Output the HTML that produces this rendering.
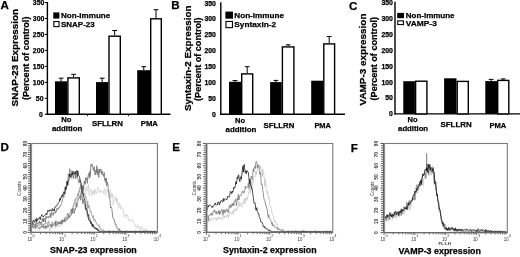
<!DOCTYPE html>
<html><head><meta charset="utf-8"><style>
html,body{margin:0;padding:0;background:#fff;}
svg{display:block;}
text{font-family:'Liberation Sans',Arial,sans-serif;font-weight:bold;}
.n{font-weight:normal;}
.k{stroke:#000;stroke-width:0.25px;}
</style></head><body>
<svg width="520" height="257" viewBox="0 0 520 257">
<rect width="520" height="257" fill="#fff"/>
<line x1="47.40" y1="2.00" x2="47.40" y2="114.90" stroke="#000" stroke-width="1.4"/>
<line x1="46.70" y1="114.30" x2="170.50" y2="114.30" stroke="#000" stroke-width="1.4"/>
<line x1="44.80" y1="114.30" x2="47.40" y2="114.30" stroke="#000" stroke-width="1.0"/>
<text x="42.90" y="116.75" font-size="6.9" text-anchor="end" class="k">0</text>
<line x1="44.80" y1="98.33" x2="47.40" y2="98.33" stroke="#000" stroke-width="1.0"/>
<text x="43.50" y="100.78" font-size="6.9" text-anchor="end" class="k">50</text>
<line x1="44.80" y1="82.36" x2="47.40" y2="82.36" stroke="#000" stroke-width="1.0"/>
<text x="44.30" y="84.81" font-size="6.9" text-anchor="end" class="k">100</text>
<line x1="44.80" y1="66.39" x2="47.40" y2="66.39" stroke="#000" stroke-width="1.0"/>
<text x="44.30" y="68.84" font-size="6.9" text-anchor="end" class="k">150</text>
<line x1="44.80" y1="50.42" x2="47.40" y2="50.42" stroke="#000" stroke-width="1.0"/>
<text x="44.30" y="52.87" font-size="6.9" text-anchor="end" class="k">200</text>
<line x1="44.80" y1="34.45" x2="47.40" y2="34.45" stroke="#000" stroke-width="1.0"/>
<text x="44.30" y="36.90" font-size="6.9" text-anchor="end" class="k">250</text>
<line x1="44.80" y1="18.48" x2="47.40" y2="18.48" stroke="#000" stroke-width="1.0"/>
<text x="44.30" y="20.93" font-size="6.9" text-anchor="end" class="k">300</text>
<line x1="44.80" y1="2.51" x2="47.40" y2="2.51" stroke="#000" stroke-width="1.0"/>
<text x="44.30" y="4.96" font-size="6.9" text-anchor="end" class="k">350</text>
<line x1="87.50" y1="114.30" x2="87.50" y2="116.10" stroke="#000" stroke-width="0.9"/>
<line x1="128.50" y1="114.30" x2="128.50" y2="116.10" stroke="#000" stroke-width="0.9"/>
<line x1="61.10" y1="78.20" x2="61.10" y2="81.30" stroke="#000" stroke-width="1.0"/>
<line x1="58.70" y1="78.20" x2="63.50" y2="78.20" stroke="#000" stroke-width="1.0"/>
<rect x="55.00" y="81.30" width="12.20" height="33.00" fill="#000"/>
<line x1="73.60" y1="74.30" x2="73.60" y2="77.20" stroke="#000" stroke-width="1.0"/>
<line x1="71.20" y1="74.30" x2="76.00" y2="74.30" stroke="#000" stroke-width="1.0"/>
<rect x="67.90" y="77.90" width="11.40" height="36.40" fill="#fff" stroke="#000" stroke-width="1.4"/>
<line x1="102.15" y1="78.20" x2="102.15" y2="82.10" stroke="#000" stroke-width="1.0"/>
<line x1="99.75" y1="78.20" x2="104.55" y2="78.20" stroke="#000" stroke-width="1.0"/>
<rect x="96.00" y="82.10" width="12.30" height="32.20" fill="#000"/>
<line x1="114.65" y1="30.50" x2="114.65" y2="35.50" stroke="#000" stroke-width="1.0"/>
<line x1="112.25" y1="30.50" x2="117.05" y2="30.50" stroke="#000" stroke-width="1.0"/>
<rect x="109.00" y="36.20" width="11.30" height="78.10" fill="#fff" stroke="#000" stroke-width="1.4"/>
<line x1="143.75" y1="66.70" x2="143.75" y2="70.20" stroke="#000" stroke-width="1.0"/>
<line x1="141.35" y1="66.70" x2="146.15" y2="66.70" stroke="#000" stroke-width="1.0"/>
<rect x="137.20" y="70.20" width="13.10" height="44.10" fill="#000"/>
<line x1="156.00" y1="9.70" x2="156.00" y2="18.10" stroke="#000" stroke-width="1.0"/>
<line x1="153.60" y1="9.70" x2="158.40" y2="9.70" stroke="#000" stroke-width="1.0"/>
<rect x="150.70" y="18.80" width="10.60" height="95.50" fill="#fff" stroke="#000" stroke-width="1.4"/>
<rect x="53.30" y="12.40" width="6.10" height="6.20" fill="#000"/>
<rect x="53.85" y="21.55" width="5.20" height="5.10" fill="#fff" stroke="#000" stroke-width="1.1"/>
<text x="61.00" y="18.20" font-size="8.0" textLength="49.20" lengthAdjust="spacingAndGlyphs" class="k">Non-immune</text>
<text x="61.00" y="26.90" font-size="8.0" textLength="33.70" lengthAdjust="spacingAndGlyphs" class="k">SNAP-23</text>
<text x="0.50" y="8.60" font-size="11.6" class="k">A</text>
<text x="61.30" y="121.80" font-size="8.1" textLength="10.20" lengthAdjust="spacingAndGlyphs" class="k">No</text>
<text x="51.90" y="130.90" font-size="8.1" textLength="30.40" lengthAdjust="spacingAndGlyphs" class="k">addition</text>
<text x="91.90" y="126.10" font-size="8.1" textLength="31.10" lengthAdjust="spacingAndGlyphs" class="k">SFLLRN</text>
<text x="140.80" y="126.10" font-size="8.1" textLength="17.10" lengthAdjust="spacingAndGlyphs" class="k">PMA</text>
<text x="18.20" y="106.40" font-size="9.5" textLength="97.40" lengthAdjust="spacingAndGlyphs" class="k" transform="rotate(-90 18.20 106.40)">SNAP-23 Expression</text>
<text x="28.50" y="100.00" font-size="8.8" textLength="83.40" lengthAdjust="spacingAndGlyphs" class="k" transform="rotate(-90 28.50 100.00)">(Percent of control)</text>
<line x1="220.80" y1="2.20" x2="220.80" y2="114.80" stroke="#000" stroke-width="1.4"/>
<line x1="220.10" y1="114.20" x2="345.00" y2="114.20" stroke="#000" stroke-width="1.4"/>
<text x="215.90" y="116.65" font-size="6.9" text-anchor="end" class="k">0</text>
<text x="215.90" y="100.79" font-size="6.9" text-anchor="end" class="k">50</text>
<text x="215.90" y="84.93" font-size="6.9" text-anchor="end" class="k">100</text>
<text x="215.90" y="69.07" font-size="6.9" text-anchor="end" class="k">150</text>
<text x="215.90" y="53.21" font-size="6.9" text-anchor="end" class="k">200</text>
<text x="215.90" y="37.35" font-size="6.9" text-anchor="end" class="k">250</text>
<text x="215.90" y="21.49" font-size="6.9" text-anchor="end" class="k">300</text>
<text x="215.90" y="5.63" font-size="6.9" text-anchor="end" class="k">350</text>
<line x1="235.00" y1="80.50" x2="235.00" y2="81.80" stroke="#000" stroke-width="1.0"/>
<line x1="232.60" y1="80.50" x2="237.40" y2="80.50" stroke="#000" stroke-width="1.0"/>
<rect x="229.00" y="81.80" width="12.00" height="32.40" fill="#000"/>
<line x1="247.20" y1="66.70" x2="247.20" y2="73.20" stroke="#000" stroke-width="1.0"/>
<line x1="244.80" y1="66.70" x2="249.60" y2="66.70" stroke="#000" stroke-width="1.0"/>
<rect x="241.70" y="73.90" width="11.00" height="40.30" fill="#fff" stroke="#000" stroke-width="1.4"/>
<line x1="275.90" y1="80.40" x2="275.90" y2="82.10" stroke="#000" stroke-width="1.0"/>
<line x1="273.50" y1="80.40" x2="278.30" y2="80.40" stroke="#000" stroke-width="1.0"/>
<rect x="270.10" y="82.10" width="11.60" height="32.10" fill="#000"/>
<line x1="288.15" y1="44.80" x2="288.15" y2="46.20" stroke="#000" stroke-width="1.0"/>
<line x1="285.75" y1="44.80" x2="290.55" y2="44.80" stroke="#000" stroke-width="1.0"/>
<rect x="282.40" y="46.90" width="11.50" height="67.30" fill="#fff" stroke="#000" stroke-width="1.4"/>
<rect x="311.20" y="80.70" width="11.90" height="33.50" fill="#000"/>
<line x1="329.20" y1="36.50" x2="329.20" y2="43.20" stroke="#000" stroke-width="1.0"/>
<line x1="326.80" y1="36.50" x2="331.60" y2="36.50" stroke="#000" stroke-width="1.0"/>
<rect x="323.80" y="43.90" width="10.80" height="70.30" fill="#fff" stroke="#000" stroke-width="1.4"/>
<rect x="225.40" y="11.60" width="7.60" height="7.10" fill="#000"/>
<rect x="225.95" y="21.45" width="6.50" height="6.20" fill="#fff" stroke="#000" stroke-width="1.1"/>
<text x="234.30" y="17.60" font-size="8.0" textLength="49.70" lengthAdjust="spacingAndGlyphs" class="k">Non-immune</text>
<text x="234.30" y="26.70" font-size="8.0" textLength="41.80" lengthAdjust="spacingAndGlyphs" class="k">Syntaxin-2</text>
<text x="171.30" y="8.90" font-size="11.6" class="k">B</text>
<text x="235.00" y="123.00" font-size="8.1" textLength="10.00" lengthAdjust="spacingAndGlyphs" class="k">No</text>
<text x="225.60" y="132.10" font-size="8.1" textLength="30.70" lengthAdjust="spacingAndGlyphs" class="k">addition</text>
<text x="263.50" y="127.90" font-size="8.1" textLength="30.90" lengthAdjust="spacingAndGlyphs" class="k">SFLLRN</text>
<text x="314.40" y="127.90" font-size="8.1" textLength="16.60" lengthAdjust="spacingAndGlyphs" class="k">PMA</text>
<text x="190.50" y="111.00" font-size="9.5" textLength="105.40" lengthAdjust="spacingAndGlyphs" class="k" transform="rotate(-90 190.50 111.00)">Syntaxin-2 Expression</text>
<text x="201.50" y="100.90" font-size="8.8" textLength="83.40" lengthAdjust="spacingAndGlyphs" class="k" transform="rotate(-90 201.50 100.90)">(Percent of control)</text>
<line x1="395.00" y1="1.80" x2="395.00" y2="114.50" stroke="#000" stroke-width="1.4"/>
<line x1="394.30" y1="113.90" x2="520.50" y2="113.90" stroke="#000" stroke-width="1.4"/>
<text x="392.90" y="116.35" font-size="6.9" text-anchor="end" class="k">0</text>
<text x="392.90" y="100.45" font-size="6.9" text-anchor="end" class="k">50</text>
<text x="392.90" y="84.55" font-size="6.9" text-anchor="end" class="k">100</text>
<text x="392.90" y="68.65" font-size="6.9" text-anchor="end" class="k">150</text>
<text x="392.90" y="52.75" font-size="6.9" text-anchor="end" class="k">200</text>
<text x="392.90" y="36.85" font-size="6.9" text-anchor="end" class="k">250</text>
<text x="392.90" y="20.95" font-size="6.9" text-anchor="end" class="k">300</text>
<text x="392.90" y="5.05" font-size="6.9" text-anchor="end" class="k">350</text>
<rect x="403.30" y="81.20" width="11.60" height="32.70" fill="#000"/>
<rect x="415.60" y="81.20" width="11.30" height="32.70" fill="#fff" stroke="#000" stroke-width="1.4"/>
<rect x="444.10" y="78.30" width="12.40" height="35.60" fill="#000"/>
<rect x="457.20" y="81.40" width="11.10" height="32.50" fill="#fff" stroke="#000" stroke-width="1.4"/>
<line x1="491.15" y1="79.40" x2="491.15" y2="81.10" stroke="#000" stroke-width="1.0"/>
<line x1="488.75" y1="79.40" x2="493.55" y2="79.40" stroke="#000" stroke-width="1.0"/>
<rect x="485.30" y="81.10" width="11.70" height="32.80" fill="#000"/>
<line x1="503.25" y1="78.90" x2="503.25" y2="79.70" stroke="#000" stroke-width="1.0"/>
<line x1="500.85" y1="78.90" x2="505.65" y2="78.90" stroke="#000" stroke-width="1.0"/>
<rect x="497.70" y="80.40" width="11.10" height="33.50" fill="#fff" stroke="#000" stroke-width="1.4"/>
<rect x="397.20" y="12.90" width="6.80" height="5.30" fill="#000"/>
<rect x="397.75" y="20.85" width="5.70" height="3.70" fill="#fff" stroke="#000" stroke-width="1.1"/>
<text x="405.80" y="18.40" font-size="8.0" textLength="48.70" lengthAdjust="spacingAndGlyphs" class="k">Non-immune</text>
<text x="405.80" y="26.00" font-size="8.0" textLength="31.00" lengthAdjust="spacingAndGlyphs" class="k">VAMP-3</text>
<text x="349.00" y="9.70" font-size="11.6" class="k">C</text>
<text x="407.50" y="121.80" font-size="8.1" textLength="10.00" lengthAdjust="spacingAndGlyphs" class="k">No</text>
<text x="398.10" y="131.30" font-size="8.1" textLength="30.00" lengthAdjust="spacingAndGlyphs" class="k">addition</text>
<text x="440.50" y="127.40" font-size="8.1" textLength="31.10" lengthAdjust="spacingAndGlyphs" class="k">SFLLRN</text>
<text x="489.40" y="127.90" font-size="8.1" textLength="16.90" lengthAdjust="spacingAndGlyphs" class="k">PMA</text>
<text x="366.10" y="105.50" font-size="9.5" textLength="92.00" lengthAdjust="spacingAndGlyphs" class="k" transform="rotate(-90 366.10 105.50)">VAMP-3 expression</text>
<text x="377.00" y="100.40" font-size="8.8" textLength="83.50" lengthAdjust="spacingAndGlyphs" class="k" transform="rotate(-90 377.00 100.40)">(Percent of control)</text>
<polyline points="31.80,226.77 32.30,228.38 32.80,229.00 33.30,227.48 33.80,226.66 34.30,227.93 34.80,228.48 35.30,229.10 35.80,226.78 36.30,226.70 36.80,228.71 37.30,228.48 37.80,229.54 38.30,228.99 38.80,227.90 39.30,227.72 39.80,230.59 40.30,227.71 40.80,227.21 41.30,226.86 41.80,228.10 42.30,228.15 42.80,227.65 43.30,227.94 43.80,228.27 44.30,228.70 44.80,229.10 45.30,228.21 45.80,226.20 46.30,228.71 46.80,226.57 47.30,227.83 47.80,226.52 48.30,228.00 48.80,227.22 49.30,228.22 49.80,231.32 50.30,227.86 50.80,228.62 51.30,226.24 51.80,227.16 52.30,228.01 52.80,227.06 53.30,227.41 53.80,226.97 54.30,225.61 54.80,227.18 55.30,225.51 55.80,228.35 56.30,225.54 56.80,226.74 57.30,225.81 57.80,226.75 58.30,224.81 58.80,226.52 59.30,225.06 59.80,226.55 60.30,225.45 60.80,224.37 61.30,222.72 61.80,224.18 62.30,223.31 62.80,224.37 63.30,221.19 63.80,221.96 64.30,221.40 64.80,220.60 65.30,220.00 65.80,219.46 66.30,217.82 66.80,216.69 67.30,217.10 67.80,218.10 68.30,219.03 68.80,217.72 69.30,216.96 69.80,215.35 70.30,214.05 70.80,211.99 71.30,211.83 71.80,212.44 72.30,207.48 72.80,205.60 73.30,209.37 73.80,204.95 74.30,205.29 74.80,204.12 75.30,199.13 75.80,205.32 76.30,203.04 76.80,198.77 77.30,198.98 77.80,196.67 78.30,193.73 78.80,194.76 79.30,195.19 79.80,196.18 80.30,194.68 80.80,192.63 81.30,194.89 81.80,189.55 82.30,192.63 82.80,193.11 83.30,189.69 83.80,186.05 84.30,187.79 84.80,190.14 85.30,190.55 85.80,192.64 86.30,186.82 86.80,189.30 87.30,190.96 87.80,189.32 88.30,184.49 88.80,191.88 89.30,195.46 89.80,192.69 90.30,188.45 90.80,189.61 91.30,191.06 91.80,196.20 92.30,192.01 92.80,190.90 93.30,194.17 93.80,190.51 94.30,194.90 94.80,189.20 95.30,189.70 95.80,192.41 96.30,194.02 96.80,192.31 97.30,191.54 97.80,186.80 98.30,189.31 98.80,189.57 99.30,189.77 99.80,192.31 100.30,190.29 100.80,192.87 101.30,191.35 101.80,190.48 102.30,191.55 102.80,192.31 103.30,193.33 103.80,190.41 104.30,191.02 104.80,188.56 105.30,195.24 105.80,194.96 106.30,191.39 106.80,190.79 107.30,189.16 107.80,192.35 108.30,192.81 108.80,197.73 109.30,194.06 109.80,192.41 110.30,189.40 110.80,198.29 111.30,196.25 111.80,193.02 112.30,197.40 112.80,194.24 113.30,205.41 113.80,201.08 114.30,200.52 114.80,199.58 115.30,196.19 115.80,200.85 116.30,198.59 116.80,203.44 117.30,198.66 117.80,201.67 118.30,206.37 118.80,207.75 119.30,202.94 119.80,202.88 120.30,208.16 120.80,208.96 121.30,206.48 121.80,207.89 122.30,208.78 122.80,208.81 123.30,210.58 123.80,214.71 124.30,214.62 124.80,217.69 125.30,214.86 125.80,215.29 126.30,214.46 126.80,216.31 127.30,214.99 127.80,214.81 128.30,219.04 128.80,220.62 129.30,220.22 129.80,221.41 130.30,220.36 130.80,219.50 131.30,221.12 131.80,220.99 132.30,220.52 132.80,220.29 133.30,221.10 133.80,223.49 134.30,224.19 134.80,223.93 135.30,226.69 135.80,225.71 136.30,226.66 136.80,227.61 137.30,225.59 137.80,224.60 138.30,227.79 138.80,226.51 139.30,228.84 139.80,228.07 140.30,228.99 140.80,228.98 141.30,226.44 141.80,229.40 142.30,228.33 142.80,228.51 143.30,229.06 143.80,230.37 144.30,230.64 144.80,230.90 145.30,228.87 145.80,229.93 146.30,228.72 146.80,230.69 147.30,231.39 147.80,230.57 148.30,231.47 148.80,231.63 149.30,231.52 149.80,231.31 150.30,231.40 150.80,231.86 151.30,231.83 151.80,231.88 152.30,231.47 152.80,231.45 153.30,231.69 153.80,231.82 154.30,231.79 154.80,231.78 155.30,231.40 155.80,231.87 156.30,231.52" fill="none" stroke="#d0d0d0" stroke-width="0.8" stroke-linejoin="round"/>
<polyline points="31.80,225.13 32.30,224.89 32.80,224.84 33.30,224.18 33.80,225.06 34.30,224.80 34.80,226.10 35.30,223.52 35.80,227.84 36.30,220.82 36.80,224.75 37.30,225.74 37.80,224.37 38.30,223.65 38.80,224.49 39.30,225.41 39.80,226.06 40.30,222.56 40.80,224.71 41.30,223.61 41.80,225.71 42.30,223.72 42.80,224.52 43.30,225.67 43.80,223.88 44.30,224.52 44.80,223.20 45.30,223.78 45.80,221.65 46.30,222.99 46.80,223.40 47.30,223.14 47.80,226.74 48.30,221.04 48.80,221.09 49.30,224.22 49.80,224.68 50.30,224.02 50.80,225.22 51.30,226.34 51.80,222.91 52.30,221.67 52.80,223.10 53.30,224.78 53.80,223.68 54.30,222.76 54.80,223.34 55.30,223.21 55.80,220.41 56.30,223.23 56.80,221.40 57.30,222.09 57.80,221.62 58.30,222.33 58.80,223.41 59.30,221.74 59.80,222.15 60.30,222.95 60.80,222.00 61.30,220.07 61.80,221.83 62.30,219.76 62.80,219.62 63.30,220.00 63.80,221.61 64.30,217.71 64.80,218.09 65.30,218.58 65.80,216.69 66.30,217.65 66.80,218.77 67.30,213.16 67.80,215.41 68.30,213.46 68.80,217.42 69.30,214.28 69.80,213.61 70.30,211.64 70.80,209.31 71.30,210.35 71.80,209.79 72.30,208.11 72.80,210.40 73.30,207.39 73.80,203.02 74.30,202.95 74.80,203.19 75.30,198.78 75.80,199.55 76.30,197.31 76.80,197.72 77.30,196.30 77.80,193.29 78.30,196.27 78.80,190.79 79.30,192.50 79.80,187.27 80.30,186.25 80.80,185.82 81.30,186.37 81.80,190.13 82.30,185.47 82.80,193.75 83.30,187.89 83.80,194.97 84.30,193.21 84.80,193.16 85.30,197.63 85.80,196.24 86.30,198.77 86.80,200.42 87.30,207.66 87.80,201.14 88.30,208.33 88.80,205.39 89.30,205.98 89.80,207.82 90.30,212.41 90.80,211.18 91.30,211.59 91.80,215.37 92.30,215.90 92.80,218.07 93.30,215.50 93.80,220.49 94.30,220.94 94.80,219.00 95.30,220.48 95.80,222.52 96.30,222.46 96.80,224.73 97.30,225.35 97.80,225.52 98.30,224.85 98.80,224.31 99.30,227.33 99.80,226.08 100.30,229.04 100.80,230.07 101.30,228.83 101.80,229.95 102.30,230.69 102.80,230.69 103.30,229.48 103.80,230.06 104.30,230.89 104.80,231.74 105.30,231.34 105.80,231.59 106.30,231.83 106.80,231.26 107.30,231.78 107.80,231.43 108.30,231.70 108.80,231.50 109.30,230.62 109.80,231.51 110.30,231.82 110.80,231.59 111.30,231.86 111.80,231.43 112.30,231.45 112.80,231.78 113.30,231.49 113.80,231.58 114.30,231.01 114.80,231.81 115.30,231.62 115.80,231.65 116.30,231.75 116.80,230.86 117.30,231.68 117.80,231.28 118.30,231.61 118.80,231.25 119.30,231.62 119.80,231.39 120.30,231.55 120.80,230.73 121.30,231.31 121.80,231.89 122.30,231.70 122.80,231.50 123.30,231.69 123.80,231.62 124.30,231.87 124.80,231.62 125.30,231.43 125.80,231.09 126.30,231.66 126.80,231.25 127.30,231.16 127.80,231.63 128.30,231.61 128.80,231.59 129.30,231.77 129.80,231.44 130.30,231.60 130.80,231.41 131.30,231.15 131.80,231.69 132.30,231.43 132.80,231.79 133.30,231.42 133.80,231.83 134.30,230.97 134.80,231.74 135.30,231.31 135.80,230.73 136.30,231.30 136.80,231.76 137.30,231.81 137.80,231.51 138.30,231.32 138.80,231.64 139.30,231.34 139.80,231.10 140.30,231.20 140.80,231.70 141.30,231.28 141.80,231.49 142.30,231.48 142.80,231.44 143.30,230.81 143.80,231.65 144.30,231.31 144.80,231.28 145.30,231.84 145.80,231.50 146.30,231.76 146.80,231.78 147.30,231.71 147.80,231.58 148.30,231.06 148.80,231.88 149.30,231.75 149.80,231.53 150.30,231.76 150.80,231.80 151.30,230.62 151.80,231.06 152.30,231.80 152.80,231.58 153.30,231.67 153.80,231.47 154.30,230.89 154.80,231.14 155.30,231.16 155.80,231.77 156.30,231.69" fill="none" stroke="#9a9a9a" stroke-width="0.8" stroke-linejoin="round"/>
<polyline points="31.80,225.48 32.30,227.14 32.80,226.59 33.30,226.35 33.80,227.79 34.30,226.83 34.80,226.45 35.30,228.54 35.80,226.15 36.30,225.32 36.80,225.17 37.30,226.01 37.80,227.20 38.30,227.36 38.80,227.63 39.30,228.34 39.80,228.17 40.30,227.03 40.80,227.72 41.30,226.99 41.80,225.67 42.30,227.11 42.80,226.27 43.30,225.95 43.80,228.27 44.30,226.93 44.80,225.55 45.30,225.96 45.80,228.52 46.30,225.71 46.80,226.74 47.30,226.59 47.80,226.44 48.30,226.49 48.80,225.30 49.30,225.29 49.80,225.59 50.30,225.34 50.80,226.58 51.30,227.36 51.80,224.66 52.30,226.21 52.80,224.49 53.30,224.69 53.80,225.01 54.30,225.22 54.80,224.42 55.30,221.75 55.80,226.16 56.30,224.07 56.80,223.46 57.30,224.83 57.80,223.14 58.30,221.96 58.80,224.09 59.30,223.82 59.80,222.13 60.30,223.94 60.80,223.09 61.30,220.92 61.80,224.29 62.30,222.14 62.80,220.05 63.30,221.83 63.80,221.13 64.30,221.97 64.80,218.60 65.30,221.53 65.80,220.95 66.30,220.11 66.80,219.50 67.30,220.00 67.80,218.65 68.30,217.29 68.80,215.35 69.30,217.74 69.80,217.05 70.30,215.51 70.80,214.77 71.30,215.15 71.80,209.55 72.30,213.51 72.80,208.47 73.30,212.17 73.80,212.77 74.30,213.44 74.80,208.71 75.30,209.49 75.80,207.88 76.30,203.33 76.80,207.29 77.30,203.92 77.80,202.06 78.30,198.07 78.80,198.20 79.30,197.10 79.80,198.20 80.30,194.84 80.80,200.22 81.30,190.66 81.80,189.61 82.30,188.73 82.80,185.77 83.30,189.66 83.80,186.46 84.30,180.79 84.80,182.96 85.30,184.39 85.80,177.38 86.30,180.06 86.80,178.15 87.30,183.32 87.80,177.72 88.30,174.69 88.80,173.25 89.30,178.27 89.80,171.37 90.30,176.63 90.80,164.79 91.30,166.21 91.80,163.99 92.30,164.18 92.80,166.85 93.30,170.56 93.80,168.14 94.30,166.72 94.80,174.26 95.30,175.08 95.80,170.18 96.30,172.88 96.80,165.68 97.30,174.72 97.80,168.79 98.30,170.73 98.80,177.53 99.30,169.19 99.80,172.77 100.30,170.43 100.80,168.88 101.30,170.88 101.80,174.68 102.30,171.04 102.80,173.06 103.30,176.55 103.80,174.62 104.30,172.61 104.80,180.58 105.30,178.40 105.80,182.60 106.30,177.95 106.80,186.13 107.30,181.95 107.80,183.93 108.30,189.78 108.80,192.89 109.30,197.18 109.80,198.53 110.30,203.80 110.80,207.99 111.30,207.13 111.80,208.59 112.30,212.83 112.80,217.29 113.30,218.90 113.80,218.92 114.30,219.77 114.80,222.21 115.30,224.56 115.80,223.74 116.30,227.16 116.80,227.14 117.30,228.35 117.80,228.20 118.30,230.34 118.80,229.56 119.30,228.68 119.80,230.91 120.30,230.34 120.80,231.78 121.30,231.51 121.80,231.41 122.30,231.50 122.80,231.68 123.30,231.70 123.80,231.68 124.30,231.88 124.80,231.83 125.30,231.64 125.80,231.60 126.30,231.48 126.80,231.54 127.30,231.39 127.80,231.39 128.30,231.40 128.80,231.44 129.30,231.66 129.80,231.53 130.30,231.19 130.80,231.49 131.30,231.78 131.80,231.38 132.30,231.71 132.80,231.38 133.30,231.72 133.80,231.57 134.30,231.75 134.80,231.73 135.30,231.34 135.80,231.46 136.30,231.58 136.80,231.71 137.30,231.07 137.80,231.39 138.30,231.53 138.80,231.53 139.30,231.35 139.80,231.85 140.30,231.67 140.80,231.49 141.30,231.42 141.80,231.75 142.30,231.32 142.80,231.72 143.30,231.87 143.80,231.41 144.30,230.95 144.80,231.34 145.30,231.72 145.80,231.40 146.30,231.77 146.80,231.71 147.30,231.82 147.80,231.80 148.30,231.47 148.80,231.80 149.30,231.79 149.80,231.49 150.30,231.54 150.80,231.58 151.30,231.63 151.80,231.12 152.30,231.76 152.80,231.52 153.30,231.28 153.80,231.14 154.30,231.67 154.80,231.33 155.30,231.47 155.80,231.68 156.30,231.61" fill="none" stroke="#6e6e6e" stroke-width="0.8" stroke-linejoin="round"/>
<polyline points="31.80,225.55 32.30,227.08 32.80,224.33 33.30,222.99 33.80,225.08 34.30,225.29 34.80,224.81 35.30,224.75 35.80,223.80 36.30,223.02 36.80,222.61 37.30,223.04 37.80,222.62 38.30,224.00 38.80,223.41 39.30,220.87 39.80,223.09 40.30,221.92 40.80,223.10 41.30,223.33 41.80,221.83 42.30,218.49 42.80,221.40 43.30,218.17 43.80,222.09 44.30,218.79 44.80,219.15 45.30,221.64 45.80,216.38 46.30,218.59 46.80,216.75 47.30,217.20 47.80,216.44 48.30,218.22 48.80,216.43 49.30,217.03 49.80,217.12 50.30,213.24 50.80,217.57 51.30,214.72 51.80,212.19 52.30,213.36 52.80,215.39 53.30,215.25 53.80,212.23 54.30,212.98 54.80,212.61 55.30,213.32 55.80,210.80 56.30,212.07 56.80,208.32 57.30,208.00 57.80,209.78 58.30,209.30 58.80,207.36 59.30,207.68 59.80,205.98 60.30,206.02 60.80,205.78 61.30,203.60 61.80,203.19 62.30,199.86 62.80,198.53 63.30,193.53 63.80,197.40 64.30,194.97 64.80,194.36 65.30,187.56 65.80,188.86 66.30,186.36 66.80,180.74 67.30,184.24 67.80,182.29 68.30,173.78 68.80,175.65 69.30,176.57 69.80,168.62 70.30,174.84 70.80,177.00 71.30,178.24 71.80,170.69 72.30,171.94 72.80,175.60 73.30,178.55 73.80,172.99 74.30,174.34 74.80,173.27 75.30,178.57 75.80,174.31 76.30,176.93 76.80,176.94 77.30,178.93 77.80,178.43 78.30,179.56 78.80,182.84 79.30,182.53 79.80,179.79 80.30,183.53 80.80,189.29 81.30,190.06 81.80,191.49 82.30,195.10 82.80,203.59 83.30,198.98 83.80,202.25 84.30,204.13 84.80,204.51 85.30,208.89 85.80,210.00 86.30,210.92 86.80,209.76 87.30,215.74 87.80,216.65 88.30,216.65 88.80,213.85 89.30,218.68 89.80,218.08 90.30,220.44 90.80,221.08 91.30,221.70 91.80,224.97 92.30,224.87 92.80,227.10 93.30,225.33 93.80,226.59 94.30,228.62 94.80,227.96 95.30,227.34 95.80,227.62 96.30,228.34 96.80,229.23 97.30,230.31 97.80,230.26 98.30,231.14 98.80,231.58 99.30,231.47 99.80,231.54 100.30,231.90 100.80,231.61 101.30,231.55 101.80,231.44 102.30,231.73 102.80,231.76 103.30,231.82 103.80,231.41 104.30,231.70 104.80,231.67 105.30,231.88 105.80,231.63 106.30,231.37 106.80,231.58 107.30,231.89 107.80,231.71 108.30,231.36 108.80,231.63 109.30,231.82 109.80,231.38 110.30,231.81 110.80,231.38 111.30,231.69 111.80,231.47 112.30,231.54 112.80,231.26 113.30,230.79 113.80,230.68 114.30,231.75 114.80,231.24 115.30,231.53 115.80,231.83 116.30,230.91 116.80,231.41 117.30,231.58 117.80,231.47 118.30,231.72 118.80,231.88 119.30,231.46 119.80,231.38 120.30,231.30 120.80,231.53 121.30,231.37 121.80,231.73 122.30,231.15 122.80,231.71 123.30,231.64 123.80,231.74 124.30,231.89 124.80,231.90 125.30,231.32 125.80,231.70 126.30,231.34 126.80,231.39 127.30,231.65 127.80,231.61 128.30,231.86 128.80,231.86 129.30,231.36 129.80,231.55 130.30,231.82 130.80,231.46 131.30,231.79 131.80,231.77 132.30,231.84 132.80,231.84 133.30,231.59 133.80,231.50 134.30,231.65 134.80,231.59 135.30,231.48 135.80,231.45 136.30,231.57 136.80,231.56 137.30,231.43 137.80,231.38 138.30,231.87 138.80,231.81 139.30,231.87 139.80,230.65 140.30,231.89 140.80,231.87 141.30,231.54 141.80,231.89 142.30,231.63 142.80,231.77 143.30,231.40 143.80,231.64 144.30,231.35 144.80,231.89 145.30,231.65 145.80,231.41 146.30,231.25 146.80,231.47 147.30,231.18 147.80,231.54 148.30,231.27 148.80,231.89 149.30,231.46 149.80,231.75 150.30,231.79 150.80,231.43 151.30,231.32 151.80,230.96 152.30,231.83 152.80,231.41 153.30,231.52 153.80,231.19 154.30,231.65 154.80,231.33 155.30,231.66 155.80,231.47 156.30,231.35" fill="none" stroke="#666666" stroke-width="0.7" stroke-linejoin="round"/>
<polyline points="31.80,224.68 32.30,224.07 32.80,221.22 33.30,220.22 33.80,221.84 34.30,222.43 34.80,221.05 35.30,219.20 35.80,219.92 36.30,221.79 36.80,218.14 37.30,220.63 37.80,219.65 38.30,219.24 38.80,219.23 39.30,217.26 39.80,217.47 40.30,219.55 40.80,216.49 41.30,216.12 41.80,214.54 42.30,215.41 42.80,216.66 43.30,217.01 43.80,215.91 44.30,215.57 44.80,215.20 45.30,214.55 45.80,215.14 46.30,213.27 46.80,214.61 47.30,212.74 47.80,210.33 48.30,210.45 48.80,211.65 49.30,210.97 49.80,209.60 50.30,209.92 50.80,210.95 51.30,210.96 51.80,211.30 52.30,208.53 52.80,210.01 53.30,210.67 53.80,209.37 54.30,211.08 54.80,207.17 55.30,207.26 55.80,206.93 56.30,205.44 56.80,205.36 57.30,205.19 57.80,204.17 58.30,202.82 58.80,202.30 59.30,201.90 59.80,198.53 60.30,200.35 60.80,197.23 61.30,197.66 61.80,195.23 62.30,196.27 62.80,194.44 63.30,193.63 63.80,191.76 64.30,192.27 64.80,193.94 65.30,186.73 65.80,189.97 66.30,188.43 66.80,185.37 67.30,181.74 67.80,185.39 68.30,180.76 68.80,180.77 69.30,176.43 69.80,174.05 70.30,177.10 70.80,176.14 71.30,173.73 71.80,173.66 72.30,175.05 72.80,171.65 73.30,171.14 73.80,172.38 74.30,174.17 74.80,173.43 75.30,171.58 75.80,173.99 76.30,171.01 76.80,170.49 77.30,176.69 77.80,170.88 78.30,174.23 78.80,175.72 79.30,176.42 79.80,178.23 80.30,180.76 80.80,182.75 81.30,183.30 81.80,187.17 82.30,192.32 82.80,193.54 83.30,193.94 83.80,197.24 84.30,197.96 84.80,199.98 85.30,203.55 85.80,209.01 86.30,207.97 86.80,208.38 87.30,212.97 87.80,214.09 88.30,217.73 88.80,220.12 89.30,220.14 89.80,221.28 90.30,220.81 90.80,223.68 91.30,222.29 91.80,223.70 92.30,226.63 92.80,224.05 93.30,225.72 93.80,226.15 94.30,227.23 94.80,227.85 95.30,229.13 95.80,228.68 96.30,229.11 96.80,228.09 97.30,229.67 97.80,228.81 98.30,230.91 98.80,230.42 99.30,231.41 99.80,230.90 100.30,231.67 100.80,231.46 101.30,231.81 101.80,231.73 102.30,231.61 102.80,231.48 103.30,231.34 103.80,231.23 104.30,231.51 104.80,231.76 105.30,231.85 105.80,231.59 106.30,231.62 106.80,231.86 107.30,231.51 107.80,231.43 108.30,230.89 108.80,231.69 109.30,231.84 109.80,231.31 110.30,231.53 110.80,231.34 111.30,231.26 111.80,231.72 112.30,231.82 112.80,231.44 113.30,231.90 113.80,231.10 114.30,231.60 114.80,231.51 115.30,231.83 115.80,231.49 116.30,231.84 116.80,231.89 117.30,231.89 117.80,231.31 118.30,231.89 118.80,231.39 119.30,231.45 119.80,231.48 120.30,231.69 120.80,231.82 121.30,231.85 121.80,231.48 122.30,231.67 122.80,231.40 123.30,231.78 123.80,230.94 124.30,231.86 124.80,231.32 125.30,231.42 125.80,231.26 126.30,231.32 126.80,231.62 127.30,231.88 127.80,231.67 128.30,231.49 128.80,231.66 129.30,231.87 129.80,231.75 130.30,231.38 130.80,231.38 131.30,231.57 131.80,231.49 132.30,231.51 132.80,231.77 133.30,231.40 133.80,231.88 134.30,231.23 134.80,231.81 135.30,231.61 135.80,231.39 136.30,231.67 136.80,231.47 137.30,231.58 137.80,231.60 138.30,231.46 138.80,231.79 139.30,231.54 139.80,231.73 140.30,231.71 140.80,231.36 141.30,231.60 141.80,231.63 142.30,231.84 142.80,231.18 143.30,231.80 143.80,231.22 144.30,231.68 144.80,231.42 145.30,231.82 145.80,231.86 146.30,231.82 146.80,231.02 147.30,231.35 147.80,231.72 148.30,231.61 148.80,231.55 149.30,231.63 149.80,231.34 150.30,231.57 150.80,231.37 151.30,231.30 151.80,231.82 152.30,231.72 152.80,231.78 153.30,231.72 153.80,231.39 154.30,231.67 154.80,231.54 155.30,231.83 155.80,231.44 156.30,231.39" fill="none" stroke="#141414" stroke-width="0.75" stroke-linejoin="round"/>
<rect x="31.00" y="143.50" width="126.40" height="88.90" fill="none" stroke="#7a7a7a" stroke-width="1.1"/>
<line x1="31.30" y1="143.00" x2="31.30" y2="232.40" stroke="#9a9a9a" stroke-width="1.6"/>
<line x1="30.70" y1="143.00" x2="30.70" y2="232.40" stroke="#555" stroke-width="1.0"/>
<line x1="31.00" y1="232.40" x2="157.40" y2="232.40" stroke="#6a6a6a" stroke-width="1.3"/>
<line x1="27.50" y1="232.40" x2="30.10" y2="232.40" stroke="#222" stroke-width="0.75"/>
<line x1="28.10" y1="230.18" x2="30.10" y2="230.18" stroke="#222" stroke-width="0.75"/>
<line x1="28.10" y1="227.96" x2="30.10" y2="227.96" stroke="#222" stroke-width="0.75"/>
<line x1="28.10" y1="225.73" x2="30.10" y2="225.73" stroke="#222" stroke-width="0.75"/>
<line x1="28.10" y1="223.51" x2="30.10" y2="223.51" stroke="#222" stroke-width="0.75"/>
<line x1="27.50" y1="221.29" x2="30.10" y2="221.29" stroke="#222" stroke-width="0.75"/>
<line x1="28.10" y1="219.06" x2="30.10" y2="219.06" stroke="#222" stroke-width="0.75"/>
<line x1="28.10" y1="216.84" x2="30.10" y2="216.84" stroke="#222" stroke-width="0.75"/>
<line x1="28.10" y1="214.62" x2="30.10" y2="214.62" stroke="#222" stroke-width="0.75"/>
<line x1="28.10" y1="212.40" x2="30.10" y2="212.40" stroke="#222" stroke-width="0.75"/>
<line x1="27.50" y1="210.18" x2="30.10" y2="210.18" stroke="#222" stroke-width="0.75"/>
<line x1="28.10" y1="207.95" x2="30.10" y2="207.95" stroke="#222" stroke-width="0.75"/>
<line x1="28.10" y1="205.73" x2="30.10" y2="205.73" stroke="#222" stroke-width="0.75"/>
<line x1="28.10" y1="203.51" x2="30.10" y2="203.51" stroke="#222" stroke-width="0.75"/>
<line x1="28.10" y1="201.28" x2="30.10" y2="201.28" stroke="#222" stroke-width="0.75"/>
<line x1="27.50" y1="199.06" x2="30.10" y2="199.06" stroke="#222" stroke-width="0.75"/>
<line x1="28.10" y1="196.84" x2="30.10" y2="196.84" stroke="#222" stroke-width="0.75"/>
<line x1="28.10" y1="194.62" x2="30.10" y2="194.62" stroke="#222" stroke-width="0.75"/>
<line x1="28.10" y1="192.40" x2="30.10" y2="192.40" stroke="#222" stroke-width="0.75"/>
<line x1="28.10" y1="190.17" x2="30.10" y2="190.17" stroke="#222" stroke-width="0.75"/>
<line x1="27.50" y1="187.95" x2="30.10" y2="187.95" stroke="#222" stroke-width="0.75"/>
<line x1="28.10" y1="185.73" x2="30.10" y2="185.73" stroke="#222" stroke-width="0.75"/>
<line x1="28.10" y1="183.50" x2="30.10" y2="183.50" stroke="#222" stroke-width="0.75"/>
<line x1="28.10" y1="181.28" x2="30.10" y2="181.28" stroke="#222" stroke-width="0.75"/>
<line x1="28.10" y1="179.06" x2="30.10" y2="179.06" stroke="#222" stroke-width="0.75"/>
<line x1="27.50" y1="176.84" x2="30.10" y2="176.84" stroke="#222" stroke-width="0.75"/>
<line x1="28.10" y1="174.62" x2="30.10" y2="174.62" stroke="#222" stroke-width="0.75"/>
<line x1="28.10" y1="172.39" x2="30.10" y2="172.39" stroke="#222" stroke-width="0.75"/>
<line x1="28.10" y1="170.17" x2="30.10" y2="170.17" stroke="#222" stroke-width="0.75"/>
<line x1="28.10" y1="167.95" x2="30.10" y2="167.95" stroke="#222" stroke-width="0.75"/>
<line x1="27.50" y1="165.72" x2="30.10" y2="165.72" stroke="#222" stroke-width="0.75"/>
<line x1="28.10" y1="163.50" x2="30.10" y2="163.50" stroke="#222" stroke-width="0.75"/>
<line x1="28.10" y1="161.28" x2="30.10" y2="161.28" stroke="#222" stroke-width="0.75"/>
<line x1="28.10" y1="159.06" x2="30.10" y2="159.06" stroke="#222" stroke-width="0.75"/>
<line x1="28.10" y1="156.84" x2="30.10" y2="156.84" stroke="#222" stroke-width="0.75"/>
<line x1="27.50" y1="154.61" x2="30.10" y2="154.61" stroke="#222" stroke-width="0.75"/>
<line x1="28.10" y1="152.39" x2="30.10" y2="152.39" stroke="#222" stroke-width="0.75"/>
<line x1="28.10" y1="150.17" x2="30.10" y2="150.17" stroke="#222" stroke-width="0.75"/>
<line x1="28.10" y1="147.94" x2="30.10" y2="147.94" stroke="#222" stroke-width="0.75"/>
<line x1="28.10" y1="145.72" x2="30.10" y2="145.72" stroke="#222" stroke-width="0.75"/>
<line x1="27.50" y1="143.50" x2="30.10" y2="143.50" stroke="#222" stroke-width="0.75"/>
<text x="26.70" y="232.40" font-size="4.9" text-anchor="middle" fill="#3a3a3a" transform="rotate(-90 26.70 232.40)">0</text>
<text x="26.70" y="221.29" font-size="4.9" text-anchor="middle" fill="#3a3a3a" transform="rotate(-90 26.70 221.29)">10</text>
<text x="26.70" y="210.18" font-size="4.9" text-anchor="middle" fill="#3a3a3a" transform="rotate(-90 26.70 210.18)">20</text>
<text x="26.70" y="199.06" font-size="4.9" text-anchor="middle" fill="#3a3a3a" transform="rotate(-90 26.70 199.06)">30</text>
<text x="26.70" y="187.95" font-size="4.9" text-anchor="middle" fill="#3a3a3a" transform="rotate(-90 26.70 187.95)">40</text>
<text x="26.70" y="176.84" font-size="4.9" text-anchor="middle" fill="#3a3a3a" transform="rotate(-90 26.70 176.84)">50</text>
<text x="26.70" y="165.72" font-size="4.9" text-anchor="middle" fill="#3a3a3a" transform="rotate(-90 26.70 165.72)">60</text>
<text x="26.70" y="154.61" font-size="4.9" text-anchor="middle" fill="#3a3a3a" transform="rotate(-90 26.70 154.61)">70</text>
<text x="26.70" y="143.50" font-size="4.9" text-anchor="middle" fill="#3a3a3a" transform="rotate(-90 26.70 143.50)">80</text>
<text x="21.00" y="195.90" font-size="4.6" textLength="14.60" lengthAdjust="spacingAndGlyphs" class="n" fill="#333" transform="rotate(-90 21.00 195.90)">Counts</text>
<line x1="31.00" y1="233.00" x2="31.00" y2="234.80" stroke="#333" stroke-width="0.75"/>
<line x1="40.51" y1="233.00" x2="40.51" y2="234.20" stroke="#333" stroke-width="0.75"/>
<line x1="46.08" y1="233.00" x2="46.08" y2="234.20" stroke="#333" stroke-width="0.75"/>
<line x1="50.03" y1="233.00" x2="50.03" y2="234.20" stroke="#333" stroke-width="0.75"/>
<line x1="53.09" y1="233.00" x2="53.09" y2="234.20" stroke="#333" stroke-width="0.75"/>
<line x1="55.59" y1="233.00" x2="55.59" y2="234.20" stroke="#333" stroke-width="0.75"/>
<line x1="57.71" y1="233.00" x2="57.71" y2="234.20" stroke="#333" stroke-width="0.75"/>
<line x1="59.54" y1="233.00" x2="59.54" y2="234.20" stroke="#333" stroke-width="0.75"/>
<line x1="61.15" y1="233.00" x2="61.15" y2="234.20" stroke="#333" stroke-width="0.75"/>
<line x1="62.60" y1="233.00" x2="62.60" y2="234.80" stroke="#333" stroke-width="0.75"/>
<line x1="72.11" y1="233.00" x2="72.11" y2="234.20" stroke="#333" stroke-width="0.75"/>
<line x1="77.68" y1="233.00" x2="77.68" y2="234.20" stroke="#333" stroke-width="0.75"/>
<line x1="81.63" y1="233.00" x2="81.63" y2="234.20" stroke="#333" stroke-width="0.75"/>
<line x1="84.69" y1="233.00" x2="84.69" y2="234.20" stroke="#333" stroke-width="0.75"/>
<line x1="87.19" y1="233.00" x2="87.19" y2="234.20" stroke="#333" stroke-width="0.75"/>
<line x1="89.31" y1="233.00" x2="89.31" y2="234.20" stroke="#333" stroke-width="0.75"/>
<line x1="91.14" y1="233.00" x2="91.14" y2="234.20" stroke="#333" stroke-width="0.75"/>
<line x1="92.75" y1="233.00" x2="92.75" y2="234.20" stroke="#333" stroke-width="0.75"/>
<line x1="94.20" y1="233.00" x2="94.20" y2="234.80" stroke="#333" stroke-width="0.75"/>
<line x1="103.71" y1="233.00" x2="103.71" y2="234.20" stroke="#333" stroke-width="0.75"/>
<line x1="109.28" y1="233.00" x2="109.28" y2="234.20" stroke="#333" stroke-width="0.75"/>
<line x1="113.23" y1="233.00" x2="113.23" y2="234.20" stroke="#333" stroke-width="0.75"/>
<line x1="116.29" y1="233.00" x2="116.29" y2="234.20" stroke="#333" stroke-width="0.75"/>
<line x1="118.79" y1="233.00" x2="118.79" y2="234.20" stroke="#333" stroke-width="0.75"/>
<line x1="120.91" y1="233.00" x2="120.91" y2="234.20" stroke="#333" stroke-width="0.75"/>
<line x1="122.74" y1="233.00" x2="122.74" y2="234.20" stroke="#333" stroke-width="0.75"/>
<line x1="124.35" y1="233.00" x2="124.35" y2="234.20" stroke="#333" stroke-width="0.75"/>
<line x1="125.80" y1="233.00" x2="125.80" y2="234.80" stroke="#333" stroke-width="0.75"/>
<line x1="135.31" y1="233.00" x2="135.31" y2="234.20" stroke="#333" stroke-width="0.75"/>
<line x1="140.88" y1="233.00" x2="140.88" y2="234.20" stroke="#333" stroke-width="0.75"/>
<line x1="144.83" y1="233.00" x2="144.83" y2="234.20" stroke="#333" stroke-width="0.75"/>
<line x1="147.89" y1="233.00" x2="147.89" y2="234.20" stroke="#333" stroke-width="0.75"/>
<line x1="150.39" y1="233.00" x2="150.39" y2="234.20" stroke="#333" stroke-width="0.75"/>
<line x1="152.51" y1="233.00" x2="152.51" y2="234.20" stroke="#333" stroke-width="0.75"/>
<line x1="154.34" y1="233.00" x2="154.34" y2="234.20" stroke="#333" stroke-width="0.75"/>
<line x1="155.95" y1="233.00" x2="155.95" y2="234.20" stroke="#333" stroke-width="0.75"/>
<text class="n" x="27.40" y="240.70" font-size="5.3" textLength="4.9" lengthAdjust="spacingAndGlyphs" fill="#333">10</text><text class="n" x="32.50" y="237.20" font-size="3.8" fill="#333">0</text>
<text class="n" x="59.00" y="240.70" font-size="5.3" textLength="4.9" lengthAdjust="spacingAndGlyphs" fill="#333">10</text><text class="n" x="64.10" y="237.20" font-size="3.8" fill="#333">1</text>
<text class="n" x="90.60" y="240.70" font-size="5.3" textLength="4.9" lengthAdjust="spacingAndGlyphs" fill="#333">10</text><text class="n" x="95.70" y="237.20" font-size="3.8" fill="#333">2</text>
<text class="n" x="122.20" y="240.70" font-size="5.3" textLength="4.9" lengthAdjust="spacingAndGlyphs" fill="#333">10</text><text class="n" x="127.30" y="237.20" font-size="3.8" fill="#333">3</text>
<text class="n" x="153.80" y="240.70" font-size="5.3" textLength="4.9" lengthAdjust="spacingAndGlyphs" fill="#333">10</text><text class="n" x="158.90" y="237.20" font-size="3.8" fill="#333">4</text>
<text x="0.60" y="151.10" font-size="11.6" class="k">D</text>
<text x="50.10" y="253.20" font-size="9.4" textLength="86.70" lengthAdjust="spacingAndGlyphs" class="k">SNAP-23 expression</text>
<polyline points="207.30,220.91 207.80,221.54 208.30,218.68 208.80,218.45 209.30,220.03 209.80,221.78 210.30,219.93 210.80,217.74 211.30,218.18 211.80,219.06 212.30,220.33 212.80,218.95 213.30,218.39 213.80,218.49 214.30,218.94 214.80,217.62 215.30,218.54 215.80,218.83 216.30,220.62 216.80,218.23 217.30,219.55 217.80,216.73 218.30,219.25 218.80,218.21 219.30,217.17 219.80,217.80 220.30,219.00 220.80,217.22 221.30,219.02 221.80,219.61 222.30,219.60 222.80,219.44 223.30,215.20 223.80,217.32 224.30,215.71 224.80,217.87 225.30,216.46 225.80,216.52 226.30,216.70 226.80,215.01 227.30,215.85 227.80,214.50 228.30,218.26 228.80,214.15 229.30,214.49 229.80,211.44 230.30,211.50 230.80,212.10 231.30,214.24 231.80,213.85 232.30,212.73 232.80,210.92 233.30,214.49 233.80,209.57 234.30,209.45 234.80,211.21 235.30,208.41 235.80,210.06 236.30,210.83 236.80,208.72 237.30,209.12 237.80,208.10 238.30,206.50 238.80,201.84 239.30,204.76 239.80,206.44 240.30,203.20 240.80,204.67 241.30,205.62 241.80,207.22 242.30,202.03 242.80,203.12 243.30,203.59 243.80,203.26 244.30,198.85 244.80,204.00 245.30,198.08 245.80,200.83 246.30,197.47 246.80,197.77 247.30,199.38 247.80,196.62 248.30,194.58 248.80,191.38 249.30,190.86 249.80,187.78 250.30,193.60 250.80,184.54 251.30,180.82 251.80,188.62 252.30,186.40 252.80,181.29 253.30,182.58 253.80,177.17 254.30,176.06 254.80,176.94 255.30,175.03 255.80,171.30 256.30,174.75 256.80,171.38 257.30,168.99 257.80,164.77 258.30,167.20 258.80,165.14 259.30,165.84 259.80,168.81 260.30,166.09 260.80,168.95 261.30,171.03 261.80,170.66 262.30,176.81 262.80,168.72 263.30,174.61 263.80,173.75 264.30,178.20 264.80,186.26 265.30,179.11 265.80,184.49 266.30,188.88 266.80,189.99 267.30,194.03 267.80,191.30 268.30,198.69 268.80,197.25 269.30,199.13 269.80,204.70 270.30,206.64 270.80,206.69 271.30,208.72 271.80,211.87 272.30,214.15 272.80,215.79 273.30,216.49 273.80,216.69 274.30,222.72 274.80,222.09 275.30,221.20 275.80,221.69 276.30,223.59 276.80,224.76 277.30,223.80 277.80,228.30 278.30,228.13 278.80,227.73 279.30,228.67 279.80,228.87 280.30,229.90 280.80,229.41 281.30,230.64 281.80,231.15 282.30,229.98 282.80,230.20 283.30,230.22 283.80,231.00 284.30,231.02 284.80,231.79 285.30,231.67 285.80,231.47 286.30,231.74 286.80,231.85 287.30,231.63 287.80,230.82 288.30,231.90 288.80,230.95 289.30,231.71 289.80,231.44 290.30,231.75 290.80,231.48 291.30,231.84 291.80,231.67 292.30,231.47 292.80,231.72 293.30,231.21 293.80,231.89 294.30,231.54 294.80,231.82 295.30,231.01 295.80,231.85 296.30,231.48 296.80,231.80 297.30,231.21 297.80,231.79 298.30,231.31 298.80,231.69 299.30,231.18 299.80,231.84 300.30,231.41 300.80,231.44 301.30,231.18 301.80,231.89 302.30,231.54 302.80,231.43 303.30,231.36 303.80,231.84 304.30,231.58 304.80,231.87 305.30,231.52 305.80,231.48 306.30,231.63 306.80,231.10 307.30,231.61 307.80,231.52 308.30,231.61 308.80,231.85 309.30,231.03 309.80,231.37 310.30,231.44 310.80,231.15 311.30,231.37 311.80,230.96 312.30,231.64 312.80,231.11 313.30,231.67 313.80,231.53 314.30,231.31 314.80,230.65 315.30,231.71 315.80,231.67 316.30,231.85 316.80,231.72 317.30,231.62 317.80,231.59 318.30,231.48 318.80,231.78 319.30,231.50 319.80,231.49 320.30,231.81 320.80,231.71 321.30,231.87 321.80,231.81 322.30,231.75 322.80,231.57 323.30,231.54 323.80,231.65 324.30,230.96 324.80,231.62 325.30,231.20 325.80,231.73 326.30,231.74 326.80,231.79 327.30,231.41 327.80,231.86 328.30,231.89 328.80,231.56 329.30,231.75 329.80,231.90 330.30,231.24 330.80,231.37 331.30,231.57 331.80,231.84" fill="none" stroke="#c8c8c8" stroke-width="0.8" stroke-linejoin="round"/>
<polyline points="207.30,216.51 207.80,215.34 208.30,220.75 208.80,216.02 209.30,215.35 209.80,215.58 210.30,213.89 210.80,213.39 211.30,215.22 211.80,213.48 212.30,215.33 212.80,213.51 213.30,210.79 213.80,211.37 214.30,211.94 214.80,209.91 215.30,212.87 215.80,212.40 216.30,214.31 216.80,211.21 217.30,212.14 217.80,213.36 218.30,213.52 218.80,210.46 219.30,214.60 219.80,210.88 220.30,213.82 220.80,211.19 221.30,210.86 221.80,209.32 222.30,211.04 222.80,215.14 223.30,209.81 223.80,213.35 224.30,212.83 224.80,209.69 225.30,212.12 225.80,212.42 226.30,209.31 226.80,208.73 227.30,211.44 227.80,209.93 228.30,212.57 228.80,209.08 229.30,205.73 229.80,207.22 230.30,204.64 230.80,207.69 231.30,207.11 231.80,204.53 232.30,203.13 232.80,206.00 233.30,203.08 233.80,205.66 234.30,200.85 234.80,201.62 235.30,200.50 235.80,198.92 236.30,205.82 236.80,203.18 237.30,197.93 237.80,200.23 238.30,194.31 238.80,200.03 239.30,199.10 239.80,195.53 240.30,194.90 240.80,195.57 241.30,195.43 241.80,193.07 242.30,191.41 242.80,192.08 243.30,191.11 243.80,193.18 244.30,191.05 244.80,190.78 245.30,185.99 245.80,188.37 246.30,187.86 246.80,187.08 247.30,187.51 247.80,186.60 248.30,183.29 248.80,188.50 249.30,187.54 249.80,182.59 250.30,183.74 250.80,178.39 251.30,175.97 251.80,176.99 252.30,179.83 252.80,174.03 253.30,168.72 253.80,171.68 254.30,167.92 254.80,166.29 255.30,168.52 255.80,162.27 256.30,161.49 256.80,161.75 257.30,168.03 257.80,165.14 258.30,164.68 258.80,165.95 259.30,170.96 259.80,174.41 260.30,171.91 260.80,177.07 261.30,184.87 261.80,183.74 262.30,185.17 262.80,190.34 263.30,193.46 263.80,198.26 264.30,199.93 264.80,200.26 265.30,203.03 265.80,205.99 266.30,205.99 266.80,209.28 267.30,209.49 267.80,215.01 268.30,217.35 268.80,214.69 269.30,218.48 269.80,218.61 270.30,219.66 270.80,220.34 271.30,222.20 271.80,224.29 272.30,222.68 272.80,226.21 273.30,225.11 273.80,224.56 274.30,226.14 274.80,227.28 275.30,226.89 275.80,227.68 276.30,227.43 276.80,227.63 277.30,229.51 277.80,227.91 278.30,229.95 278.80,229.57 279.30,229.26 279.80,229.55 280.30,229.74 280.80,230.19 281.30,230.42 281.80,230.59 282.30,229.51 282.80,229.68 283.30,231.64 283.80,231.25 284.30,231.55 284.80,231.84 285.30,231.30 285.80,231.41 286.30,231.52 286.80,231.79 287.30,231.57 287.80,230.81 288.30,231.21 288.80,231.59 289.30,231.80 289.80,231.40 290.30,231.06 290.80,231.85 291.30,231.79 291.80,230.56 292.30,230.98 292.80,231.44 293.30,231.30 293.80,231.78 294.30,231.67 294.80,231.76 295.30,230.47 295.80,231.74 296.30,231.38 296.80,231.54 297.30,230.98 297.80,231.74 298.30,231.49 298.80,231.42 299.30,231.86 299.80,231.68 300.30,231.34 300.80,231.35 301.30,231.25 301.80,231.46 302.30,231.18 302.80,231.33 303.30,231.73 303.80,230.74 304.30,231.71 304.80,231.15 305.30,231.82 305.80,231.87 306.30,231.89 306.80,231.69 307.30,231.80 307.80,231.63 308.30,231.73 308.80,231.61 309.30,231.46 309.80,231.41 310.30,231.66 310.80,231.37 311.30,231.88 311.80,231.77 312.30,231.77 312.80,231.70 313.30,231.71 313.80,231.82 314.30,231.41 314.80,231.83 315.30,230.93 315.80,231.60 316.30,231.67 316.80,231.35 317.30,231.37 317.80,231.60 318.30,231.78 318.80,231.77 319.30,231.51 319.80,230.99 320.30,231.65 320.80,231.45 321.30,231.88 321.80,231.85 322.30,231.43 322.80,231.77 323.30,231.14 323.80,231.52 324.30,231.55 324.80,231.72 325.30,231.34 325.80,231.70 326.30,231.34 326.80,231.80 327.30,230.89 327.80,231.57 328.30,231.38 328.80,231.52 329.30,231.58 329.80,231.52 330.30,231.60 330.80,231.25 331.30,231.58 331.80,231.66" fill="none" stroke="#7c7c7c" stroke-width="0.8" stroke-linejoin="round"/>
<polyline points="207.30,210.40 207.80,205.16 208.30,207.10 208.80,205.95 209.30,204.82 209.80,205.22 210.30,205.24 210.80,205.83 211.30,206.51 211.80,207.42 212.30,206.10 212.80,207.40 213.30,206.31 213.80,205.70 214.30,205.12 214.80,203.89 215.30,202.87 215.80,204.95 216.30,204.57 216.80,205.08 217.30,204.85 217.80,202.10 218.30,202.71 218.80,201.82 219.30,204.93 219.80,202.91 220.30,203.03 220.80,201.15 221.30,200.30 221.80,201.12 222.30,201.56 222.80,202.13 223.30,198.56 223.80,201.25 224.30,198.95 224.80,199.16 225.30,199.14 225.80,198.64 226.30,199.73 226.80,199.85 227.30,198.36 227.80,196.27 228.30,197.32 228.80,196.66 229.30,196.92 229.80,195.30 230.30,191.34 230.80,192.12 231.30,192.03 231.80,193.69 232.30,191.07 232.80,192.26 233.30,190.41 233.80,186.95 234.30,188.22 234.80,187.96 235.30,186.46 235.80,181.60 236.30,184.07 236.80,180.89 237.30,176.78 237.80,178.77 238.30,174.86 238.80,175.18 239.30,180.05 239.80,181.72 240.30,178.41 240.80,176.68 241.30,179.30 241.80,174.82 242.30,170.78 242.80,166.36 243.30,172.30 243.80,164.66 244.30,164.36 244.80,170.09 245.30,172.60 245.80,170.59 246.30,173.93 246.80,170.80 247.30,170.73 247.80,171.86 248.30,172.30 248.80,176.61 249.30,183.55 249.80,179.20 250.30,183.40 250.80,186.09 251.30,186.05 251.80,189.40 252.30,189.06 252.80,194.07 253.30,197.59 253.80,202.05 254.30,203.49 254.80,202.79 255.30,203.74 255.80,209.97 256.30,210.15 256.80,207.66 257.30,211.47 257.80,212.27 258.30,214.16 258.80,213.93 259.30,216.77 259.80,217.83 260.30,219.35 260.80,221.97 261.30,222.20 261.80,221.84 262.30,222.55 262.80,224.55 263.30,226.66 263.80,226.95 264.30,226.07 264.80,228.13 265.30,227.99 265.80,227.65 266.30,228.99 266.80,229.11 267.30,228.61 267.80,229.38 268.30,230.06 268.80,231.10 269.30,229.80 269.80,230.88 270.30,231.01 270.80,231.23 271.30,230.86 271.80,231.81 272.30,231.49 272.80,231.66 273.30,231.65 273.80,231.85 274.30,231.73 274.80,231.38 275.30,231.68 275.80,231.35 276.30,231.35 276.80,231.70 277.30,231.60 277.80,231.85 278.30,231.60 278.80,231.23 279.30,231.54 279.80,231.20 280.30,231.79 280.80,231.69 281.30,231.51 281.80,231.70 282.30,231.52 282.80,231.41 283.30,231.30 283.80,231.75 284.30,231.86 284.80,231.77 285.30,231.82 285.80,231.60 286.30,231.83 286.80,231.56 287.30,231.02 287.80,231.74 288.30,231.31 288.80,231.61 289.30,231.81 289.80,231.79 290.30,231.68 290.80,231.54 291.30,231.85 291.80,231.46 292.30,231.33 292.80,231.72 293.30,231.51 293.80,231.80 294.30,231.79 294.80,231.74 295.30,231.82 295.80,231.46 296.30,231.16 296.80,231.56 297.30,231.54 297.80,231.02 298.30,231.54 298.80,231.67 299.30,231.39 299.80,231.78 300.30,231.53 300.80,231.53 301.30,230.97 301.80,231.70 302.30,231.48 302.80,231.51 303.30,231.86 303.80,230.81 304.30,231.52 304.80,231.31 305.30,231.67 305.80,231.87 306.30,231.88 306.80,231.01 307.30,231.29 307.80,231.45 308.30,231.58 308.80,231.83 309.30,231.76 309.80,231.71 310.30,231.10 310.80,231.55 311.30,231.59 311.80,231.71 312.30,231.65 312.80,231.44 313.30,231.55 313.80,231.32 314.30,231.25 314.80,231.75 315.30,231.31 315.80,231.35 316.30,231.64 316.80,231.82 317.30,231.67 317.80,231.67 318.30,231.67 318.80,231.32 319.30,231.86 319.80,231.15 320.30,231.71 320.80,231.57 321.30,231.86 321.80,231.55 322.30,231.30 322.80,231.85 323.30,231.62 323.80,231.81 324.30,231.64 324.80,231.58 325.30,231.32 325.80,231.35 326.30,231.44 326.80,231.54 327.30,231.31 327.80,231.74 328.30,231.78 328.80,231.57 329.30,231.32 329.80,231.51 330.30,231.56 330.80,231.36 331.30,231.33 331.80,231.50" fill="none" stroke="#141414" stroke-width="0.75" stroke-linejoin="round"/>
<rect x="206.50" y="143.50" width="126.30" height="88.90" fill="none" stroke="#7a7a7a" stroke-width="1.1"/>
<line x1="206.80" y1="143.00" x2="206.80" y2="232.40" stroke="#9a9a9a" stroke-width="1.6"/>
<line x1="206.20" y1="143.00" x2="206.20" y2="232.40" stroke="#555" stroke-width="1.0"/>
<line x1="206.50" y1="232.40" x2="332.80" y2="232.40" stroke="#6a6a6a" stroke-width="1.3"/>
<line x1="203.00" y1="232.40" x2="205.60" y2="232.40" stroke="#222" stroke-width="0.75"/>
<line x1="203.60" y1="230.18" x2="205.60" y2="230.18" stroke="#222" stroke-width="0.75"/>
<line x1="203.60" y1="227.96" x2="205.60" y2="227.96" stroke="#222" stroke-width="0.75"/>
<line x1="203.60" y1="225.73" x2="205.60" y2="225.73" stroke="#222" stroke-width="0.75"/>
<line x1="203.60" y1="223.51" x2="205.60" y2="223.51" stroke="#222" stroke-width="0.75"/>
<line x1="203.00" y1="221.29" x2="205.60" y2="221.29" stroke="#222" stroke-width="0.75"/>
<line x1="203.60" y1="219.06" x2="205.60" y2="219.06" stroke="#222" stroke-width="0.75"/>
<line x1="203.60" y1="216.84" x2="205.60" y2="216.84" stroke="#222" stroke-width="0.75"/>
<line x1="203.60" y1="214.62" x2="205.60" y2="214.62" stroke="#222" stroke-width="0.75"/>
<line x1="203.60" y1="212.40" x2="205.60" y2="212.40" stroke="#222" stroke-width="0.75"/>
<line x1="203.00" y1="210.18" x2="205.60" y2="210.18" stroke="#222" stroke-width="0.75"/>
<line x1="203.60" y1="207.95" x2="205.60" y2="207.95" stroke="#222" stroke-width="0.75"/>
<line x1="203.60" y1="205.73" x2="205.60" y2="205.73" stroke="#222" stroke-width="0.75"/>
<line x1="203.60" y1="203.51" x2="205.60" y2="203.51" stroke="#222" stroke-width="0.75"/>
<line x1="203.60" y1="201.28" x2="205.60" y2="201.28" stroke="#222" stroke-width="0.75"/>
<line x1="203.00" y1="199.06" x2="205.60" y2="199.06" stroke="#222" stroke-width="0.75"/>
<line x1="203.60" y1="196.84" x2="205.60" y2="196.84" stroke="#222" stroke-width="0.75"/>
<line x1="203.60" y1="194.62" x2="205.60" y2="194.62" stroke="#222" stroke-width="0.75"/>
<line x1="203.60" y1="192.40" x2="205.60" y2="192.40" stroke="#222" stroke-width="0.75"/>
<line x1="203.60" y1="190.17" x2="205.60" y2="190.17" stroke="#222" stroke-width="0.75"/>
<line x1="203.00" y1="187.95" x2="205.60" y2="187.95" stroke="#222" stroke-width="0.75"/>
<line x1="203.60" y1="185.73" x2="205.60" y2="185.73" stroke="#222" stroke-width="0.75"/>
<line x1="203.60" y1="183.50" x2="205.60" y2="183.50" stroke="#222" stroke-width="0.75"/>
<line x1="203.60" y1="181.28" x2="205.60" y2="181.28" stroke="#222" stroke-width="0.75"/>
<line x1="203.60" y1="179.06" x2="205.60" y2="179.06" stroke="#222" stroke-width="0.75"/>
<line x1="203.00" y1="176.84" x2="205.60" y2="176.84" stroke="#222" stroke-width="0.75"/>
<line x1="203.60" y1="174.62" x2="205.60" y2="174.62" stroke="#222" stroke-width="0.75"/>
<line x1="203.60" y1="172.39" x2="205.60" y2="172.39" stroke="#222" stroke-width="0.75"/>
<line x1="203.60" y1="170.17" x2="205.60" y2="170.17" stroke="#222" stroke-width="0.75"/>
<line x1="203.60" y1="167.95" x2="205.60" y2="167.95" stroke="#222" stroke-width="0.75"/>
<line x1="203.00" y1="165.72" x2="205.60" y2="165.72" stroke="#222" stroke-width="0.75"/>
<line x1="203.60" y1="163.50" x2="205.60" y2="163.50" stroke="#222" stroke-width="0.75"/>
<line x1="203.60" y1="161.28" x2="205.60" y2="161.28" stroke="#222" stroke-width="0.75"/>
<line x1="203.60" y1="159.06" x2="205.60" y2="159.06" stroke="#222" stroke-width="0.75"/>
<line x1="203.60" y1="156.84" x2="205.60" y2="156.84" stroke="#222" stroke-width="0.75"/>
<line x1="203.00" y1="154.61" x2="205.60" y2="154.61" stroke="#222" stroke-width="0.75"/>
<line x1="203.60" y1="152.39" x2="205.60" y2="152.39" stroke="#222" stroke-width="0.75"/>
<line x1="203.60" y1="150.17" x2="205.60" y2="150.17" stroke="#222" stroke-width="0.75"/>
<line x1="203.60" y1="147.94" x2="205.60" y2="147.94" stroke="#222" stroke-width="0.75"/>
<line x1="203.60" y1="145.72" x2="205.60" y2="145.72" stroke="#222" stroke-width="0.75"/>
<line x1="203.00" y1="143.50" x2="205.60" y2="143.50" stroke="#222" stroke-width="0.75"/>
<text x="201.20" y="232.40" font-size="4.9" text-anchor="middle" fill="#3a3a3a" transform="rotate(-90 201.20 232.40)">0</text>
<text x="201.20" y="221.29" font-size="4.9" text-anchor="middle" fill="#3a3a3a" transform="rotate(-90 201.20 221.29)">10</text>
<text x="201.20" y="210.18" font-size="4.9" text-anchor="middle" fill="#3a3a3a" transform="rotate(-90 201.20 210.18)">20</text>
<text x="201.20" y="199.06" font-size="4.9" text-anchor="middle" fill="#3a3a3a" transform="rotate(-90 201.20 199.06)">30</text>
<text x="201.20" y="187.95" font-size="4.9" text-anchor="middle" fill="#3a3a3a" transform="rotate(-90 201.20 187.95)">40</text>
<text x="201.20" y="176.84" font-size="4.9" text-anchor="middle" fill="#3a3a3a" transform="rotate(-90 201.20 176.84)">50</text>
<text x="201.20" y="165.72" font-size="4.9" text-anchor="middle" fill="#3a3a3a" transform="rotate(-90 201.20 165.72)">60</text>
<text x="201.20" y="154.61" font-size="4.9" text-anchor="middle" fill="#3a3a3a" transform="rotate(-90 201.20 154.61)">70</text>
<text x="201.20" y="143.50" font-size="4.9" text-anchor="middle" fill="#3a3a3a" transform="rotate(-90 201.20 143.50)">80</text>
<text x="196.30" y="195.60" font-size="4.6" textLength="14.60" lengthAdjust="spacingAndGlyphs" class="n" fill="#333" transform="rotate(-90 196.30 195.60)">Counts</text>
<line x1="206.50" y1="233.00" x2="206.50" y2="234.80" stroke="#333" stroke-width="0.75"/>
<line x1="216.01" y1="233.00" x2="216.01" y2="234.20" stroke="#333" stroke-width="0.75"/>
<line x1="221.57" y1="233.00" x2="221.57" y2="234.20" stroke="#333" stroke-width="0.75"/>
<line x1="225.51" y1="233.00" x2="225.51" y2="234.20" stroke="#333" stroke-width="0.75"/>
<line x1="228.57" y1="233.00" x2="228.57" y2="234.20" stroke="#333" stroke-width="0.75"/>
<line x1="231.07" y1="233.00" x2="231.07" y2="234.20" stroke="#333" stroke-width="0.75"/>
<line x1="233.18" y1="233.00" x2="233.18" y2="234.20" stroke="#333" stroke-width="0.75"/>
<line x1="235.02" y1="233.00" x2="235.02" y2="234.20" stroke="#333" stroke-width="0.75"/>
<line x1="236.63" y1="233.00" x2="236.63" y2="234.20" stroke="#333" stroke-width="0.75"/>
<line x1="238.07" y1="233.00" x2="238.07" y2="234.80" stroke="#333" stroke-width="0.75"/>
<line x1="247.58" y1="233.00" x2="247.58" y2="234.20" stroke="#333" stroke-width="0.75"/>
<line x1="253.14" y1="233.00" x2="253.14" y2="234.20" stroke="#333" stroke-width="0.75"/>
<line x1="257.09" y1="233.00" x2="257.09" y2="234.20" stroke="#333" stroke-width="0.75"/>
<line x1="260.14" y1="233.00" x2="260.14" y2="234.20" stroke="#333" stroke-width="0.75"/>
<line x1="262.65" y1="233.00" x2="262.65" y2="234.20" stroke="#333" stroke-width="0.75"/>
<line x1="264.76" y1="233.00" x2="264.76" y2="234.20" stroke="#333" stroke-width="0.75"/>
<line x1="266.59" y1="233.00" x2="266.59" y2="234.20" stroke="#333" stroke-width="0.75"/>
<line x1="268.21" y1="233.00" x2="268.21" y2="234.20" stroke="#333" stroke-width="0.75"/>
<line x1="269.65" y1="233.00" x2="269.65" y2="234.80" stroke="#333" stroke-width="0.75"/>
<line x1="279.16" y1="233.00" x2="279.16" y2="234.20" stroke="#333" stroke-width="0.75"/>
<line x1="284.72" y1="233.00" x2="284.72" y2="234.20" stroke="#333" stroke-width="0.75"/>
<line x1="288.66" y1="233.00" x2="288.66" y2="234.20" stroke="#333" stroke-width="0.75"/>
<line x1="291.72" y1="233.00" x2="291.72" y2="234.20" stroke="#333" stroke-width="0.75"/>
<line x1="294.22" y1="233.00" x2="294.22" y2="234.20" stroke="#333" stroke-width="0.75"/>
<line x1="296.33" y1="233.00" x2="296.33" y2="234.20" stroke="#333" stroke-width="0.75"/>
<line x1="298.17" y1="233.00" x2="298.17" y2="234.20" stroke="#333" stroke-width="0.75"/>
<line x1="299.78" y1="233.00" x2="299.78" y2="234.20" stroke="#333" stroke-width="0.75"/>
<line x1="301.23" y1="233.00" x2="301.23" y2="234.80" stroke="#333" stroke-width="0.75"/>
<line x1="310.73" y1="233.00" x2="310.73" y2="234.20" stroke="#333" stroke-width="0.75"/>
<line x1="316.29" y1="233.00" x2="316.29" y2="234.20" stroke="#333" stroke-width="0.75"/>
<line x1="320.24" y1="233.00" x2="320.24" y2="234.20" stroke="#333" stroke-width="0.75"/>
<line x1="323.29" y1="233.00" x2="323.29" y2="234.20" stroke="#333" stroke-width="0.75"/>
<line x1="325.80" y1="233.00" x2="325.80" y2="234.20" stroke="#333" stroke-width="0.75"/>
<line x1="327.91" y1="233.00" x2="327.91" y2="234.20" stroke="#333" stroke-width="0.75"/>
<line x1="329.74" y1="233.00" x2="329.74" y2="234.20" stroke="#333" stroke-width="0.75"/>
<line x1="331.36" y1="233.00" x2="331.36" y2="234.20" stroke="#333" stroke-width="0.75"/>
<text class="n" x="202.90" y="240.70" font-size="5.3" textLength="4.9" lengthAdjust="spacingAndGlyphs" fill="#333">10</text><text class="n" x="208.00" y="237.20" font-size="3.8" fill="#333">0</text>
<text class="n" x="234.47" y="240.70" font-size="5.3" textLength="4.9" lengthAdjust="spacingAndGlyphs" fill="#333">10</text><text class="n" x="239.57" y="237.20" font-size="3.8" fill="#333">1</text>
<text class="n" x="266.05" y="240.70" font-size="5.3" textLength="4.9" lengthAdjust="spacingAndGlyphs" fill="#333">10</text><text class="n" x="271.15" y="237.20" font-size="3.8" fill="#333">2</text>
<text class="n" x="297.62" y="240.70" font-size="5.3" textLength="4.9" lengthAdjust="spacingAndGlyphs" fill="#333">10</text><text class="n" x="302.73" y="237.20" font-size="3.8" fill="#333">3</text>
<text class="n" x="329.20" y="240.70" font-size="5.3" textLength="4.9" lengthAdjust="spacingAndGlyphs" fill="#333">10</text><text class="n" x="334.30" y="237.20" font-size="3.8" fill="#333">4</text>
<text x="172.30" y="150.80" font-size="11.6" class="k">E</text>
<text x="223.00" y="252.90" font-size="9.4" textLength="93.60" lengthAdjust="spacingAndGlyphs" class="k">Syntaxin-2 expression</text>
<polyline points="384.80,220.49 385.30,219.58 385.80,217.42 386.30,220.69 386.80,219.48 387.30,219.40 387.80,218.92 388.30,221.19 388.80,219.88 389.30,220.25 389.80,217.39 390.30,216.90 390.80,215.69 391.30,216.90 391.80,212.23 392.30,219.95 392.80,217.05 393.30,216.77 393.80,218.00 394.30,215.46 394.80,216.38 395.30,217.15 395.80,212.47 396.30,218.51 396.80,215.24 397.30,215.92 397.80,212.48 398.30,213.05 398.80,217.33 399.30,212.73 399.80,212.73 400.30,214.25 400.80,215.92 401.30,207.96 401.80,215.57 402.30,212.74 402.80,213.60 403.30,209.22 403.80,211.53 404.30,213.83 404.80,209.80 405.30,208.24 405.80,208.20 406.30,207.56 406.80,210.00 407.30,208.26 407.80,206.30 408.30,208.64 408.80,203.66 409.30,202.08 409.80,210.23 410.30,202.32 410.80,206.85 411.30,202.04 411.80,200.95 412.30,201.97 412.80,197.64 413.30,196.64 413.80,197.19 414.30,195.72 414.80,197.54 415.30,199.74 415.80,190.59 416.30,190.34 416.80,193.70 417.30,192.11 417.80,192.82 418.30,186.77 418.80,189.52 419.30,186.77 419.80,181.36 420.30,186.29 420.80,179.56 421.30,184.53 421.80,180.55 422.30,180.20 422.80,186.07 423.30,183.18 423.80,178.79 424.30,177.77 424.80,173.36 425.30,178.75 425.80,176.00 426.30,170.54 426.80,167.17 427.30,171.86 427.80,170.97 428.30,173.94 428.80,167.60 429.30,167.72 429.80,171.54 430.30,170.74 430.80,174.14 431.30,175.34 431.80,169.64 432.30,165.73 432.80,173.98 433.30,173.22 433.80,178.53 434.30,172.09 434.80,182.16 435.30,185.06 435.80,185.56 436.30,191.18 436.80,192.91 437.30,196.08 437.80,201.58 438.30,204.32 438.80,206.84 439.30,207.74 439.80,209.90 440.30,213.33 440.80,215.36 441.30,215.99 441.80,220.58 442.30,223.94 442.80,223.65 443.30,223.22 443.80,226.17 444.30,224.87 444.80,224.46 445.30,226.68 445.80,225.71 446.30,228.50 446.80,228.05 447.30,229.29 447.80,230.79 448.30,230.81 448.80,229.56 449.30,227.32 449.80,229.28 450.30,228.61 450.80,230.83 451.30,231.58 451.80,230.73 452.30,230.73 452.80,230.70 453.30,230.88 453.80,229.87 454.30,231.20 454.80,230.05 455.30,229.27 455.80,230.52 456.30,232.09 456.80,230.41 457.30,228.95 457.80,231.89 458.30,230.99 458.80,231.34 459.30,230.45 459.80,231.38 460.30,231.88 460.80,229.76 461.30,231.99 461.80,230.74 462.30,231.57 462.80,231.43 463.30,232.04 463.80,231.14 464.30,230.73 464.80,231.53 465.30,231.27 465.80,231.62 466.30,231.81 466.80,230.01 467.30,231.79 467.80,231.77 468.30,232.08 468.80,231.39 469.30,232.08 469.80,232.01 470.30,232.10 470.80,231.31 471.30,231.92 471.80,231.86 472.30,231.65 472.80,231.74 473.30,231.63 473.80,231.91 474.30,231.44 474.80,231.99 475.30,231.88 475.80,230.61 476.30,231.69 476.80,231.74 477.30,231.40 477.80,231.87 478.30,231.67 478.80,231.74 479.30,231.36 479.80,231.61 480.30,231.95 480.80,232.04 481.30,231.90 481.80,231.91 482.30,231.82 482.80,232.06 483.30,231.98 483.80,231.50 484.30,232.02 484.80,232.07 485.30,231.85 485.80,231.42 486.30,231.93 486.80,231.62 487.30,231.84 487.80,231.37 488.30,231.69 488.80,231.66 489.30,231.39 489.80,231.89 490.30,232.05 490.80,231.76 491.30,231.93 491.80,231.87 492.30,231.79 492.80,230.74 493.30,231.69 493.80,231.66 494.30,231.95 494.80,231.47 495.30,231.61 495.80,231.97 496.30,230.68 496.80,232.00 497.30,230.68 497.80,231.36 498.30,231.63 498.80,231.76 499.30,231.75 499.80,232.02 500.30,231.15 500.80,231.76 501.30,231.90 501.80,231.91 502.30,231.93 502.80,232.00 503.30,231.70 503.80,231.87 504.30,231.96 504.80,232.01 505.30,232.00 505.80,231.63 506.30,231.79" fill="none" stroke="#c4c4c4" stroke-width="0.8" stroke-linejoin="round"/>
<polyline points="384.80,219.17 385.30,218.54 385.80,216.71 386.30,220.90 386.80,214.90 387.30,217.34 387.80,218.66 388.30,218.06 388.80,217.83 389.30,214.88 389.80,219.57 390.30,215.01 390.80,215.95 391.30,215.86 391.80,215.66 392.30,214.57 392.80,217.99 393.30,215.24 393.80,216.65 394.30,211.89 394.80,215.49 395.30,213.81 395.80,214.67 396.30,214.10 396.80,214.28 397.30,213.07 397.80,213.14 398.30,213.02 398.80,212.95 399.30,212.39 399.80,211.35 400.30,212.63 400.80,209.99 401.30,215.20 401.80,212.72 402.30,213.60 402.80,210.04 403.30,207.35 403.80,206.46 404.30,207.41 404.80,207.29 405.30,207.31 405.80,206.90 406.30,208.44 406.80,202.00 407.30,209.71 407.80,205.17 408.30,205.70 408.80,200.97 409.30,204.48 409.80,200.18 410.30,203.59 410.80,202.42 411.30,201.48 411.80,200.00 412.30,199.06 412.80,198.00 413.30,199.75 413.80,196.88 414.30,196.23 414.80,200.28 415.30,193.87 415.80,190.45 416.30,186.21 416.80,184.69 417.30,189.98 417.80,190.91 418.30,185.17 418.80,183.89 419.30,185.39 419.80,185.28 420.30,186.39 420.80,182.71 421.30,180.07 421.80,182.33 422.30,176.70 422.80,174.08 423.30,173.71 423.80,174.60 424.30,173.26 424.80,173.52 425.30,172.72 425.80,178.42 426.30,171.92 426.80,163.76 427.30,165.62 427.80,169.97 428.30,166.85 428.80,175.33 429.30,167.50 429.80,167.45 430.30,169.27 430.80,168.99 431.30,171.99 431.80,170.43 432.30,172.81 432.80,170.93 433.30,167.14 433.80,178.30 434.30,184.19 434.80,179.81 435.30,183.50 435.80,189.79 436.30,189.52 436.80,194.07 437.30,196.26 437.80,201.14 438.30,202.51 438.80,209.60 439.30,207.98 439.80,209.82 440.30,210.12 440.80,215.34 441.30,216.05 441.80,221.02 442.30,222.39 442.80,226.27 443.30,222.34 443.80,224.55 444.30,226.65 444.80,223.79 445.30,227.94 445.80,230.14 446.30,228.61 446.80,228.59 447.30,229.99 447.80,229.06 448.30,229.15 448.80,229.81 449.30,228.20 449.80,231.03 450.30,228.80 450.80,229.23 451.30,228.91 451.80,226.80 452.30,227.84 452.80,229.17 453.30,229.59 453.80,230.79 454.30,231.51 454.80,229.84 455.30,230.70 455.80,229.73 456.30,228.99 456.80,231.15 457.30,231.73 457.80,230.15 458.30,230.48 458.80,228.97 459.30,230.40 459.80,230.73 460.30,230.97 460.80,230.41 461.30,228.95 461.80,230.20 462.30,231.59 462.80,230.38 463.30,230.37 463.80,231.60 464.30,231.69 464.80,231.46 465.30,231.87 465.80,232.10 466.30,231.93 466.80,231.89 467.30,231.91 467.80,231.94 468.30,231.56 468.80,231.82 469.30,231.78 469.80,231.64 470.30,231.83 470.80,232.05 471.30,231.92 471.80,232.10 472.30,232.07 472.80,231.77 473.30,231.63 473.80,231.87 474.30,231.53 474.80,231.76 475.30,231.30 475.80,231.92 476.30,231.79 476.80,231.41 477.30,232.09 477.80,231.86 478.30,231.66 478.80,231.67 479.30,231.16 479.80,232.04 480.30,231.79 480.80,231.62 481.30,231.63 481.80,232.02 482.30,231.24 482.80,231.37 483.30,231.56 483.80,232.00 484.30,232.05 484.80,231.63 485.30,231.96 485.80,231.60 486.30,231.93 486.80,231.69 487.30,231.35 487.80,231.58 488.30,230.97 488.80,232.02 489.30,231.86 489.80,231.68 490.30,231.72 490.80,231.30 491.30,232.00 491.80,231.09 492.30,231.06 492.80,231.68 493.30,231.86 493.80,232.00 494.30,231.85 494.80,232.00 495.30,232.09 495.80,231.77 496.30,231.51 496.80,231.84 497.30,231.77 497.80,231.60 498.30,231.99 498.80,232.04 499.30,231.62 499.80,231.59 500.30,231.89 500.80,231.70 501.30,231.88 501.80,231.86 502.30,232.02 502.80,232.03 503.30,231.98 503.80,231.69 504.30,231.96 504.80,232.06 505.30,231.65 505.80,231.86 506.30,232.00" fill="none" stroke="#808080" stroke-width="0.8" stroke-linejoin="round"/>
<polyline points="384.80,216.13 385.30,216.79 385.80,217.79 386.30,216.27 386.80,215.49 387.30,214.67 387.80,217.37 388.30,216.06 388.80,215.30 389.30,214.70 389.80,212.61 390.30,215.74 390.80,214.24 391.30,215.21 391.80,217.04 392.30,214.47 392.80,214.58 393.30,215.85 393.80,214.11 394.30,214.31 394.80,212.33 395.30,212.42 395.80,211.19 396.30,214.49 396.80,214.63 397.30,212.03 397.80,212.26 398.30,211.67 398.80,215.73 399.30,213.16 399.80,211.34 400.30,212.26 400.80,212.94 401.30,209.36 401.80,211.46 402.30,211.06 402.80,209.80 403.30,210.49 403.80,210.71 404.30,208.55 404.80,207.56 405.30,209.07 405.80,207.51 406.30,207.48 406.80,209.44 407.30,206.60 407.80,205.50 408.30,203.04 408.80,204.94 409.30,204.19 409.80,203.83 410.30,203.02 410.80,202.54 411.30,201.02 411.80,200.12 412.30,200.11 412.80,197.02 413.30,195.52 413.80,194.47 414.30,195.38 414.80,191.05 415.30,192.33 415.80,191.85 416.30,191.76 416.80,188.29 417.30,189.32 417.80,188.28 418.30,186.19 418.80,186.33 419.30,184.86 419.80,182.04 420.30,182.54 420.80,180.42 421.30,184.68 421.80,179.11 422.30,176.98 422.80,173.97 423.30,175.62 423.80,175.37 424.30,173.82 424.80,169.97 425.30,169.82 425.80,168.83 426.30,170.72 426.80,167.70 427.30,168.90 427.80,172.58 428.30,164.13 428.80,167.22 429.30,167.60 429.80,164.41 430.30,170.11 430.80,167.29 431.30,168.77 431.80,169.30 432.30,171.20 432.80,168.48 433.30,170.77 433.80,171.65 434.30,174.13 434.80,183.42 435.30,181.90 435.80,182.50 436.30,190.17 436.80,195.54 437.30,194.40 437.80,199.76 438.30,201.37 438.80,203.51 439.30,208.79 439.80,209.90 440.30,212.47 440.80,216.58 441.30,219.52 441.80,221.01 442.30,223.65 442.80,222.60 443.30,223.94 443.80,226.15 444.30,228.37 444.80,229.09 445.30,229.11 445.80,228.68 446.30,227.54 446.80,229.84 447.30,228.64 447.80,230.60 448.30,228.84 448.80,227.29 449.30,229.76 449.80,229.06 450.30,228.54 450.80,229.14 451.30,229.06 451.80,229.33 452.30,227.77 452.80,229.21 453.30,229.58 453.80,228.33 454.30,230.31 454.80,229.25 455.30,227.87 455.80,230.66 456.30,229.22 456.80,229.58 457.30,229.44 457.80,231.08 458.30,229.71 458.80,229.21 459.30,229.30 459.80,230.24 460.30,230.28 460.80,229.37 461.30,230.54 461.80,229.37 462.30,230.00 462.80,230.28 463.30,230.11 463.80,230.11 464.30,230.12 464.80,229.57 465.30,230.10 465.80,230.19 466.30,229.07 466.80,228.95 467.30,230.20 467.80,229.97 468.30,230.12 468.80,230.55 469.30,230.29 469.80,229.65 470.30,230.42 470.80,229.55 471.30,231.29 471.80,230.81 472.30,230.09 472.80,229.63 473.30,230.45 473.80,230.00 474.30,229.59 474.80,230.50 475.30,230.21 475.80,230.76 476.30,230.04 476.80,231.52 477.30,231.40 477.80,229.08 478.30,228.78 478.80,229.55 479.30,231.29 479.80,230.69 480.30,230.35 480.80,230.49 481.30,229.49 481.80,230.49 482.30,229.71 482.80,230.59 483.30,230.24 483.80,230.16 484.30,230.20 484.80,230.97 485.30,231.88 485.80,229.51 486.30,231.16 486.80,230.45 487.30,231.75 487.80,231.51 488.30,230.29 488.80,230.91 489.30,231.80 489.80,231.98 490.30,230.58 490.80,230.36 491.30,231.21 491.80,231.90 492.30,231.68 492.80,231.34 493.30,231.50 493.80,231.53 494.30,231.28 494.80,230.73 495.30,231.73 495.80,231.59 496.30,231.90 496.80,231.40 497.30,231.16 497.80,231.92 498.30,232.01 498.80,231.76 499.30,230.84 499.80,231.50 500.30,231.56 500.80,231.13 501.30,231.60 501.80,230.92 502.30,231.28 502.80,231.80 503.30,231.82 503.80,231.63 504.30,231.77 504.80,231.83 505.30,231.55 505.80,232.05 506.30,231.92" fill="none" stroke="#111111" stroke-width="0.8" stroke-linejoin="round"/>
<rect x="384.00" y="143.50" width="123.30" height="89.10" fill="none" stroke="#7a7a7a" stroke-width="1.1"/>
<line x1="384.30" y1="143.00" x2="384.30" y2="232.60" stroke="#9a9a9a" stroke-width="1.6"/>
<line x1="383.70" y1="143.00" x2="383.70" y2="232.60" stroke="#555" stroke-width="1.0"/>
<line x1="384.00" y1="232.60" x2="507.30" y2="232.60" stroke="#6a6a6a" stroke-width="1.3"/>
<line x1="380.50" y1="232.60" x2="383.10" y2="232.60" stroke="#222" stroke-width="0.75"/>
<line x1="381.10" y1="230.37" x2="383.10" y2="230.37" stroke="#222" stroke-width="0.75"/>
<line x1="381.10" y1="228.14" x2="383.10" y2="228.14" stroke="#222" stroke-width="0.75"/>
<line x1="381.10" y1="225.92" x2="383.10" y2="225.92" stroke="#222" stroke-width="0.75"/>
<line x1="381.10" y1="223.69" x2="383.10" y2="223.69" stroke="#222" stroke-width="0.75"/>
<line x1="380.50" y1="221.46" x2="383.10" y2="221.46" stroke="#222" stroke-width="0.75"/>
<line x1="381.10" y1="219.23" x2="383.10" y2="219.23" stroke="#222" stroke-width="0.75"/>
<line x1="381.10" y1="217.01" x2="383.10" y2="217.01" stroke="#222" stroke-width="0.75"/>
<line x1="381.10" y1="214.78" x2="383.10" y2="214.78" stroke="#222" stroke-width="0.75"/>
<line x1="381.10" y1="212.55" x2="383.10" y2="212.55" stroke="#222" stroke-width="0.75"/>
<line x1="380.50" y1="210.32" x2="383.10" y2="210.32" stroke="#222" stroke-width="0.75"/>
<line x1="381.10" y1="208.10" x2="383.10" y2="208.10" stroke="#222" stroke-width="0.75"/>
<line x1="381.10" y1="205.87" x2="383.10" y2="205.87" stroke="#222" stroke-width="0.75"/>
<line x1="381.10" y1="203.64" x2="383.10" y2="203.64" stroke="#222" stroke-width="0.75"/>
<line x1="381.10" y1="201.41" x2="383.10" y2="201.41" stroke="#222" stroke-width="0.75"/>
<line x1="380.50" y1="199.19" x2="383.10" y2="199.19" stroke="#222" stroke-width="0.75"/>
<line x1="381.10" y1="196.96" x2="383.10" y2="196.96" stroke="#222" stroke-width="0.75"/>
<line x1="381.10" y1="194.73" x2="383.10" y2="194.73" stroke="#222" stroke-width="0.75"/>
<line x1="381.10" y1="192.50" x2="383.10" y2="192.50" stroke="#222" stroke-width="0.75"/>
<line x1="381.10" y1="190.28" x2="383.10" y2="190.28" stroke="#222" stroke-width="0.75"/>
<line x1="380.50" y1="188.05" x2="383.10" y2="188.05" stroke="#222" stroke-width="0.75"/>
<line x1="381.10" y1="185.82" x2="383.10" y2="185.82" stroke="#222" stroke-width="0.75"/>
<line x1="381.10" y1="183.59" x2="383.10" y2="183.59" stroke="#222" stroke-width="0.75"/>
<line x1="381.10" y1="181.37" x2="383.10" y2="181.37" stroke="#222" stroke-width="0.75"/>
<line x1="381.10" y1="179.14" x2="383.10" y2="179.14" stroke="#222" stroke-width="0.75"/>
<line x1="380.50" y1="176.91" x2="383.10" y2="176.91" stroke="#222" stroke-width="0.75"/>
<line x1="381.10" y1="174.69" x2="383.10" y2="174.69" stroke="#222" stroke-width="0.75"/>
<line x1="381.10" y1="172.46" x2="383.10" y2="172.46" stroke="#222" stroke-width="0.75"/>
<line x1="381.10" y1="170.23" x2="383.10" y2="170.23" stroke="#222" stroke-width="0.75"/>
<line x1="381.10" y1="168.00" x2="383.10" y2="168.00" stroke="#222" stroke-width="0.75"/>
<line x1="380.50" y1="165.77" x2="383.10" y2="165.77" stroke="#222" stroke-width="0.75"/>
<line x1="381.10" y1="163.55" x2="383.10" y2="163.55" stroke="#222" stroke-width="0.75"/>
<line x1="381.10" y1="161.32" x2="383.10" y2="161.32" stroke="#222" stroke-width="0.75"/>
<line x1="381.10" y1="159.09" x2="383.10" y2="159.09" stroke="#222" stroke-width="0.75"/>
<line x1="381.10" y1="156.87" x2="383.10" y2="156.87" stroke="#222" stroke-width="0.75"/>
<line x1="380.50" y1="154.64" x2="383.10" y2="154.64" stroke="#222" stroke-width="0.75"/>
<line x1="381.10" y1="152.41" x2="383.10" y2="152.41" stroke="#222" stroke-width="0.75"/>
<line x1="381.10" y1="150.18" x2="383.10" y2="150.18" stroke="#222" stroke-width="0.75"/>
<line x1="381.10" y1="147.95" x2="383.10" y2="147.95" stroke="#222" stroke-width="0.75"/>
<line x1="381.10" y1="145.73" x2="383.10" y2="145.73" stroke="#222" stroke-width="0.75"/>
<line x1="380.50" y1="143.50" x2="383.10" y2="143.50" stroke="#222" stroke-width="0.75"/>
<text x="377.90" y="232.60" font-size="4.9" text-anchor="middle" fill="#3a3a3a" transform="rotate(-90 377.90 232.60)">0</text>
<text x="377.90" y="221.46" font-size="4.9" text-anchor="middle" fill="#3a3a3a" transform="rotate(-90 377.90 221.46)">10</text>
<text x="377.90" y="210.32" font-size="4.9" text-anchor="middle" fill="#3a3a3a" transform="rotate(-90 377.90 210.32)">20</text>
<text x="377.90" y="199.19" font-size="4.9" text-anchor="middle" fill="#3a3a3a" transform="rotate(-90 377.90 199.19)">30</text>
<text x="377.90" y="188.05" font-size="4.9" text-anchor="middle" fill="#3a3a3a" transform="rotate(-90 377.90 188.05)">40</text>
<text x="377.90" y="176.91" font-size="4.9" text-anchor="middle" fill="#3a3a3a" transform="rotate(-90 377.90 176.91)">50</text>
<text x="377.90" y="165.77" font-size="4.9" text-anchor="middle" fill="#3a3a3a" transform="rotate(-90 377.90 165.77)">60</text>
<text x="377.90" y="154.64" font-size="4.9" text-anchor="middle" fill="#3a3a3a" transform="rotate(-90 377.90 154.64)">70</text>
<text x="377.90" y="143.50" font-size="4.9" text-anchor="middle" fill="#3a3a3a" transform="rotate(-90 377.90 143.50)">80</text>
<text x="373.70" y="196.00" font-size="4.6" textLength="14.60" lengthAdjust="spacingAndGlyphs" class="n" fill="#333" transform="rotate(-90 373.70 196.00)">Counts</text>
<line x1="384.00" y1="233.20" x2="384.00" y2="235.00" stroke="#333" stroke-width="0.75"/>
<line x1="393.28" y1="233.20" x2="393.28" y2="234.40" stroke="#333" stroke-width="0.75"/>
<line x1="398.71" y1="233.20" x2="398.71" y2="234.40" stroke="#333" stroke-width="0.75"/>
<line x1="402.56" y1="233.20" x2="402.56" y2="234.40" stroke="#333" stroke-width="0.75"/>
<line x1="405.55" y1="233.20" x2="405.55" y2="234.40" stroke="#333" stroke-width="0.75"/>
<line x1="407.99" y1="233.20" x2="407.99" y2="234.40" stroke="#333" stroke-width="0.75"/>
<line x1="410.05" y1="233.20" x2="410.05" y2="234.40" stroke="#333" stroke-width="0.75"/>
<line x1="411.84" y1="233.20" x2="411.84" y2="234.40" stroke="#333" stroke-width="0.75"/>
<line x1="413.41" y1="233.20" x2="413.41" y2="234.40" stroke="#333" stroke-width="0.75"/>
<line x1="414.82" y1="233.20" x2="414.82" y2="235.00" stroke="#333" stroke-width="0.75"/>
<line x1="424.10" y1="233.20" x2="424.10" y2="234.40" stroke="#333" stroke-width="0.75"/>
<line x1="429.53" y1="233.20" x2="429.53" y2="234.40" stroke="#333" stroke-width="0.75"/>
<line x1="433.38" y1="233.20" x2="433.38" y2="234.40" stroke="#333" stroke-width="0.75"/>
<line x1="436.37" y1="233.20" x2="436.37" y2="234.40" stroke="#333" stroke-width="0.75"/>
<line x1="438.81" y1="233.20" x2="438.81" y2="234.40" stroke="#333" stroke-width="0.75"/>
<line x1="440.88" y1="233.20" x2="440.88" y2="234.40" stroke="#333" stroke-width="0.75"/>
<line x1="442.66" y1="233.20" x2="442.66" y2="234.40" stroke="#333" stroke-width="0.75"/>
<line x1="444.24" y1="233.20" x2="444.24" y2="234.40" stroke="#333" stroke-width="0.75"/>
<line x1="445.65" y1="233.20" x2="445.65" y2="235.00" stroke="#333" stroke-width="0.75"/>
<line x1="454.93" y1="233.20" x2="454.93" y2="234.40" stroke="#333" stroke-width="0.75"/>
<line x1="460.36" y1="233.20" x2="460.36" y2="234.40" stroke="#333" stroke-width="0.75"/>
<line x1="464.21" y1="233.20" x2="464.21" y2="234.40" stroke="#333" stroke-width="0.75"/>
<line x1="467.20" y1="233.20" x2="467.20" y2="234.40" stroke="#333" stroke-width="0.75"/>
<line x1="469.64" y1="233.20" x2="469.64" y2="234.40" stroke="#333" stroke-width="0.75"/>
<line x1="471.70" y1="233.20" x2="471.70" y2="234.40" stroke="#333" stroke-width="0.75"/>
<line x1="473.49" y1="233.20" x2="473.49" y2="234.40" stroke="#333" stroke-width="0.75"/>
<line x1="475.06" y1="233.20" x2="475.06" y2="234.40" stroke="#333" stroke-width="0.75"/>
<line x1="476.48" y1="233.20" x2="476.48" y2="235.00" stroke="#333" stroke-width="0.75"/>
<line x1="485.75" y1="233.20" x2="485.75" y2="234.40" stroke="#333" stroke-width="0.75"/>
<line x1="491.18" y1="233.20" x2="491.18" y2="234.40" stroke="#333" stroke-width="0.75"/>
<line x1="495.03" y1="233.20" x2="495.03" y2="234.40" stroke="#333" stroke-width="0.75"/>
<line x1="498.02" y1="233.20" x2="498.02" y2="234.40" stroke="#333" stroke-width="0.75"/>
<line x1="500.46" y1="233.20" x2="500.46" y2="234.40" stroke="#333" stroke-width="0.75"/>
<line x1="502.53" y1="233.20" x2="502.53" y2="234.40" stroke="#333" stroke-width="0.75"/>
<line x1="504.31" y1="233.20" x2="504.31" y2="234.40" stroke="#333" stroke-width="0.75"/>
<line x1="505.89" y1="233.20" x2="505.89" y2="234.40" stroke="#333" stroke-width="0.75"/>
<text class="n" x="380.40" y="240.90" font-size="5.3" textLength="4.9" lengthAdjust="spacingAndGlyphs" fill="#333">10</text><text class="n" x="385.50" y="237.40" font-size="3.8" fill="#333">0</text>
<text class="n" x="411.22" y="240.90" font-size="5.3" textLength="4.9" lengthAdjust="spacingAndGlyphs" fill="#333">10</text><text class="n" x="416.32" y="237.40" font-size="3.8" fill="#333">1</text>
<text class="n" x="442.05" y="240.90" font-size="5.3" textLength="4.9" lengthAdjust="spacingAndGlyphs" fill="#333">10</text><text class="n" x="447.15" y="237.40" font-size="3.8" fill="#333">2</text>
<text class="n" x="472.88" y="240.90" font-size="5.3" textLength="4.9" lengthAdjust="spacingAndGlyphs" fill="#333">10</text><text class="n" x="477.98" y="237.40" font-size="3.8" fill="#333">3</text>
<text class="n" x="503.70" y="240.90" font-size="5.3" textLength="4.9" lengthAdjust="spacingAndGlyphs" fill="#333">10</text><text class="n" x="508.80" y="237.40" font-size="3.8" fill="#333">4</text>
<text x="350.80" y="151.80" font-size="11.6" class="k">F</text>
<text x="398.60" y="254.00" font-size="9.4" textLength="82.40" lengthAdjust="spacingAndGlyphs" class="k">VAMP-3 expression</text>
<line x1="426.70" y1="153.30" x2="426.70" y2="168.00" stroke="#555" stroke-width="0.8"/>
<text x="438.60" y="245.40" font-size="4.3" textLength="12.40" lengthAdjust="spacingAndGlyphs" fill="#333">FL1-H</text>
</svg>
</body></html>
